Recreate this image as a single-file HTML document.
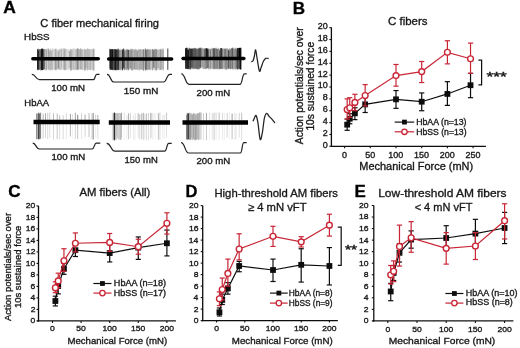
<!DOCTYPE html>
<html><head><meta charset="utf-8"><style>
html,body{margin:0;padding:0;background:#fff;}
svg{display:block;font-family:"Liberation Sans",sans-serif;will-change:transform;}
</style></head><body>
<svg width="520" height="348" viewBox="0 0 520 348">
<defs><filter id="gb" x="0" y="0" width="100%" height="100%"><feGaussianBlur stdDeviation="0.3"/></filter><filter id="bl" x="-5%" y="-5%" width="110%" height="110%"><feGaussianBlur stdDeviation="0.75 0.5"/></filter></defs>
<rect width="520" height="348" fill="#fff"/>
<g filter="url(#gb)">
<text x="3.26" y="12.5" font-size="16.5" textLength="12.59" lengthAdjust="spacingAndGlyphs" style="font-weight:bold;" fill="#000" stroke="#000" stroke-width="0.34" >A</text>
<text x="40.34" y="27" font-size="11" textLength="118.68" lengthAdjust="spacingAndGlyphs" style="" fill="#1a1a1a" stroke="#1a1a1a" stroke-width="0.34" >C fiber mechanical firing</text>
<text x="24.1" y="39.6" font-size="9" textLength="25.56" lengthAdjust="spacingAndGlyphs" style="" fill="#1a1a1a" stroke="#1a1a1a" stroke-width="0.34" >HbSS</text>
<text x="24.32" y="106.1" font-size="9" textLength="24.7" lengthAdjust="spacingAndGlyphs" style="" fill="#1a1a1a" stroke="#1a1a1a" stroke-width="0.34" >HbAA</text>
<text x="51.27" y="90.5" font-size="9" textLength="33.72" lengthAdjust="spacingAndGlyphs" style="" fill="#1a1a1a" stroke="#1a1a1a" stroke-width="0.34" >100 mN</text>
<text x="123.75" y="93.5" font-size="9" textLength="34.55" lengthAdjust="spacingAndGlyphs" style="" fill="#1a1a1a" stroke="#1a1a1a" stroke-width="0.34" >150 mN</text>
<text x="196.52" y="95.5" font-size="9" textLength="33.77" lengthAdjust="spacingAndGlyphs" style="" fill="#1a1a1a" stroke="#1a1a1a" stroke-width="0.34" >200 mN</text>
<text x="51.47" y="160.2" font-size="9" textLength="33.72" lengthAdjust="spacingAndGlyphs" style="" fill="#1a1a1a" stroke="#1a1a1a" stroke-width="0.34" >100 mN</text>
<text x="124.58" y="162.6" font-size="9" textLength="33.19" lengthAdjust="spacingAndGlyphs" style="" fill="#1a1a1a" stroke="#1a1a1a" stroke-width="0.34" >150 mN</text>
<text x="196.42" y="163.9" font-size="9" textLength="33.77" lengthAdjust="spacingAndGlyphs" style="" fill="#1a1a1a" stroke="#1a1a1a" stroke-width="0.34" >200 mN</text>
<g filter="url(#bl)"><rect x="37" y="49.4" width="0.55" height="20.2" fill="#000" fill-opacity="0.32"/><rect x="37.5" y="49.4" width="0.55" height="20.2" fill="#000" fill-opacity="0.32"/><rect x="38" y="49.4" width="0.55" height="20.2" fill="#000" fill-opacity="0.32"/><rect x="38.5" y="49.4" width="0.55" height="20.2" fill="#000" fill-opacity="0.32"/><rect x="39" y="49.4" width="0.55" height="20.2" fill="#000" fill-opacity="0.32"/><rect x="39.5" y="49.4" width="0.55" height="20.2" fill="#000" fill-opacity="0.32"/><rect x="40" y="49.4" width="0.55" height="20.2" fill="#000" fill-opacity="0.32"/><rect x="40.5" y="49.4" width="0.55" height="20.2" fill="#000" fill-opacity="0.32"/><rect x="41" y="49.4" width="0.55" height="20.2" fill="#000" fill-opacity="0.32"/><rect x="41.5" y="49.4" width="0.55" height="20.2" fill="#000" fill-opacity="0.32"/><rect x="42" y="49.4" width="0.55" height="20.2" fill="#000" fill-opacity="0.32"/><rect x="42.5" y="49.4" width="0.55" height="20.2" fill="#000" fill-opacity="0.32"/><rect x="43" y="49.4" width="0.55" height="20.2" fill="#000" fill-opacity="0.32"/><rect x="43.5" y="49.4" width="0.55" height="20.2" fill="#000" fill-opacity="0.32"/><rect x="44" y="49.4" width="0.55" height="20.2" fill="#000" fill-opacity="0.09"/><rect x="44.5" y="49.4" width="0.55" height="20.2" fill="#000" fill-opacity="0.09"/><rect x="45" y="49.4" width="0.55" height="20.2" fill="#000" fill-opacity="0.09"/><rect x="45.5" y="49.4" width="0.55" height="20.2" fill="#000" fill-opacity="0.09"/><rect x="46" y="49.4" width="0.55" height="20.2" fill="#000" fill-opacity="0.09"/><rect x="46.5" y="49.4" width="0.55" height="20.2" fill="#000" fill-opacity="0.09"/><rect x="47" y="49.4" width="0.55" height="20.2" fill="#000" fill-opacity="0.09"/><rect x="47.5" y="49.4" width="0.55" height="20.2" fill="#000" fill-opacity="0.09"/><rect x="48" y="49.4" width="0.55" height="20.2" fill="#000" fill-opacity="0.09"/><rect x="48.5" y="49.4" width="0.55" height="20.2" fill="#000" fill-opacity="0.09"/><rect x="49" y="49.4" width="0.55" height="20.2" fill="#000" fill-opacity="0.09"/><rect x="49.5" y="49.4" width="0.55" height="20.2" fill="#000" fill-opacity="0.09"/><rect x="50" y="49.4" width="0.55" height="20.2" fill="#000" fill-opacity="0.09"/><rect x="50.5" y="49.4" width="0.55" height="20.2" fill="#000" fill-opacity="0.09"/><rect x="51" y="49.4" width="0.55" height="20.2" fill="#000" fill-opacity="0.09"/><rect x="51.5" y="49.4" width="0.55" height="20.2" fill="#000" fill-opacity="0.09"/><rect x="52" y="49.4" width="0.55" height="20.2" fill="#000" fill-opacity="0.09"/><rect x="52.5" y="49.4" width="0.55" height="20.2" fill="#000" fill-opacity="0.09"/><rect x="53" y="49.4" width="0.55" height="20.2" fill="#000" fill-opacity="0.09"/><rect x="53.5" y="49.4" width="0.55" height="20.2" fill="#000" fill-opacity="0.09"/><rect x="54" y="49.4" width="0.55" height="20.2" fill="#000" fill-opacity="0.09"/><rect x="54.5" y="49.4" width="0.55" height="20.2" fill="#000" fill-opacity="0.09"/><rect x="55" y="49.4" width="0.55" height="20.2" fill="#000" fill-opacity="0.09"/><rect x="55.5" y="49.4" width="0.55" height="20.2" fill="#000" fill-opacity="0.09"/><rect x="56" y="49.4" width="0.55" height="20.2" fill="#000" fill-opacity="0.09"/><rect x="56.5" y="49.4" width="0.55" height="20.2" fill="#000" fill-opacity="0.09"/><rect x="57" y="49.4" width="0.55" height="20.2" fill="#000" fill-opacity="0.09"/><rect x="57.5" y="49.4" width="0.55" height="20.2" fill="#000" fill-opacity="0.09"/><rect x="58" y="49.4" width="0.55" height="20.2" fill="#000" fill-opacity="0.09"/><rect x="58.5" y="49.4" width="0.55" height="20.2" fill="#000" fill-opacity="0.09"/><rect x="59" y="49.4" width="0.55" height="20.2" fill="#000" fill-opacity="0.09"/><rect x="59.5" y="49.4" width="0.55" height="20.2" fill="#000" fill-opacity="0.09"/><rect x="60" y="49.4" width="0.55" height="20.2" fill="#000" fill-opacity="0.09"/><rect x="60.5" y="49.4" width="0.55" height="20.2" fill="#000" fill-opacity="0.09"/><rect x="61" y="49.4" width="0.55" height="20.2" fill="#000" fill-opacity="0.09"/><rect x="61.5" y="49.4" width="0.55" height="20.2" fill="#000" fill-opacity="0.09"/><rect x="62" y="49.4" width="0.55" height="20.2" fill="#000" fill-opacity="0.09"/><rect x="62.5" y="49.4" width="0.55" height="20.2" fill="#000" fill-opacity="0.09"/><rect x="63" y="49.4" width="0.55" height="20.2" fill="#000" fill-opacity="0.09"/><rect x="63.5" y="49.4" width="0.55" height="20.2" fill="#000" fill-opacity="0.09"/><rect x="64" y="49.4" width="0.55" height="20.2" fill="#000" fill-opacity="0.09"/><rect x="64.5" y="49.4" width="0.55" height="20.2" fill="#000" fill-opacity="0.09"/><rect x="65" y="49.4" width="0.55" height="20.2" fill="#000" fill-opacity="0.09"/><rect x="65.5" y="49.4" width="0.55" height="20.2" fill="#000" fill-opacity="0.09"/><rect x="66" y="49.4" width="0.55" height="20.2" fill="#000" fill-opacity="0.09"/><rect x="66.5" y="49.4" width="0.55" height="20.2" fill="#000" fill-opacity="0.09"/><rect x="67" y="49.4" width="0.55" height="20.2" fill="#000" fill-opacity="0.09"/><rect x="67.5" y="49.4" width="0.55" height="20.2" fill="#000" fill-opacity="0.09"/><rect x="68" y="49.4" width="0.55" height="20.2" fill="#000" fill-opacity="0.09"/><rect x="68.5" y="49.4" width="0.55" height="20.2" fill="#000" fill-opacity="0.09"/><rect x="69" y="49.4" width="0.55" height="20.2" fill="#000" fill-opacity="0.09"/><rect x="69.5" y="49.4" width="0.55" height="20.2" fill="#000" fill-opacity="0.09"/><rect x="70" y="49.4" width="0.55" height="20.2" fill="#000" fill-opacity="0.09"/><rect x="70.5" y="49.4" width="0.55" height="20.2" fill="#000" fill-opacity="0.09"/><rect x="71" y="49.4" width="0.55" height="20.2" fill="#000" fill-opacity="0.09"/><rect x="71.5" y="49.4" width="0.55" height="20.2" fill="#000" fill-opacity="0.09"/><rect x="72" y="49.4" width="0.55" height="20.2" fill="#000" fill-opacity="0.09"/><rect x="72.5" y="49.4" width="0.55" height="20.2" fill="#000" fill-opacity="0.09"/><rect x="73" y="49.4" width="0.55" height="20.2" fill="#000" fill-opacity="0.09"/><rect x="73.5" y="49.4" width="0.55" height="20.2" fill="#000" fill-opacity="0.09"/><rect x="74" y="49.4" width="0.55" height="20.2" fill="#000" fill-opacity="0.09"/><rect x="74.5" y="49.4" width="0.55" height="20.2" fill="#000" fill-opacity="0.09"/><rect x="75" y="49.4" width="0.55" height="20.2" fill="#000" fill-opacity="0.09"/><rect x="75.5" y="49.4" width="0.55" height="20.2" fill="#000" fill-opacity="0.09"/><rect x="76" y="49.4" width="0.55" height="20.2" fill="#000" fill-opacity="0.09"/><rect x="76.5" y="49.4" width="0.55" height="20.2" fill="#000" fill-opacity="0.09"/><rect x="77" y="49.4" width="0.55" height="20.2" fill="#000" fill-opacity="0.09"/><rect x="77.5" y="49.4" width="0.55" height="20.2" fill="#000" fill-opacity="0.09"/><rect x="78" y="49.4" width="0.55" height="20.2" fill="#000" fill-opacity="0.09"/><rect x="78.5" y="49.4" width="0.55" height="20.2" fill="#000" fill-opacity="0.09"/><rect x="79" y="49.4" width="0.55" height="20.2" fill="#000" fill-opacity="0.09"/><rect x="79.5" y="49.4" width="0.55" height="20.2" fill="#000" fill-opacity="0.09"/><rect x="80" y="49.4" width="0.55" height="20.2" fill="#000" fill-opacity="0.09"/><rect x="80.5" y="49.4" width="0.55" height="20.2" fill="#000" fill-opacity="0.09"/><rect x="81" y="49.4" width="0.55" height="20.2" fill="#000" fill-opacity="0.09"/><rect x="81.5" y="49.4" width="0.55" height="20.2" fill="#000" fill-opacity="0.09"/><rect x="82" y="49.4" width="0.55" height="20.2" fill="#000" fill-opacity="0.09"/><rect x="82.5" y="49.4" width="0.55" height="20.2" fill="#000" fill-opacity="0.09"/><rect x="83" y="49.4" width="0.55" height="20.2" fill="#000" fill-opacity="0.09"/><rect x="83.5" y="49.4" width="0.55" height="20.2" fill="#000" fill-opacity="0.09"/><rect x="84" y="49.4" width="0.55" height="20.2" fill="#000" fill-opacity="0.09"/><rect x="84.5" y="49.4" width="0.55" height="20.2" fill="#000" fill-opacity="0.09"/><rect x="85" y="49.4" width="0.55" height="20.2" fill="#000" fill-opacity="0.09"/><rect x="85.5" y="49.4" width="0.55" height="20.2" fill="#000" fill-opacity="0.09"/><rect x="86" y="49.4" width="0.55" height="20.2" fill="#000" fill-opacity="0.09"/><rect x="86.5" y="49.4" width="0.55" height="20.2" fill="#000" fill-opacity="0.09"/><rect x="87" y="49.4" width="0.55" height="20.2" fill="#000" fill-opacity="0.09"/><rect x="87.5" y="49.4" width="0.55" height="20.2" fill="#000" fill-opacity="0.09"/><rect x="88" y="49.4" width="0.55" height="20.2" fill="#000" fill-opacity="0.09"/><rect x="88.5" y="49.4" width="0.55" height="20.2" fill="#000" fill-opacity="0.09"/><rect x="89" y="49.4" width="0.55" height="20.2" fill="#000" fill-opacity="0.09"/><rect x="89.5" y="49.4" width="0.55" height="20.2" fill="#000" fill-opacity="0.09"/><rect x="90" y="49.4" width="0.55" height="20.2" fill="#000" fill-opacity="0.09"/><rect x="90.5" y="49.4" width="0.55" height="20.2" fill="#000" fill-opacity="0.09"/><rect x="91" y="49.4" width="0.55" height="20.2" fill="#000" fill-opacity="0.09"/><rect x="91.5" y="49.4" width="0.55" height="20.2" fill="#000" fill-opacity="0.09"/><rect x="92" y="49.4" width="0.55" height="20.2" fill="#000" fill-opacity="0.09"/><rect x="92.5" y="49.4" width="0.55" height="20.2" fill="#000" fill-opacity="0.09"/><rect x="93" y="49.4" width="0.55" height="20.2" fill="#000" fill-opacity="0.09"/><rect x="93.5" y="49.4" width="0.55" height="20.2" fill="#000" fill-opacity="0.09"/><rect x="94" y="49.4" width="0.55" height="20.2" fill="#000" fill-opacity="0.09"/><rect x="37" y="49.11" width="0.76" height="10.39" fill="#000" fill-opacity="0.78"/><rect x="37" y="59.5" width="0.76" height="10.16" fill="#000" fill-opacity="0.97"/><rect x="37.71" y="50.36" width="1.05" height="9.14" fill="#000" fill-opacity="0.83"/><rect x="37.71" y="59.5" width="1.05" height="10.17" fill="#000" fill-opacity="0.83"/><rect x="38.71" y="49.07" width="1.52" height="10.43" fill="#000" fill-opacity="0.41"/><rect x="38.71" y="59.5" width="1.52" height="10.38" fill="#000" fill-opacity="0.36"/><rect x="40.18" y="49.3" width="1.02" height="10.2" fill="#000" fill-opacity="0.51"/><rect x="40.18" y="59.5" width="1.02" height="11.18" fill="#000" fill-opacity="0.4"/><rect x="41.15" y="48.71" width="1.49" height="10.79" fill="#000" fill-opacity="1"/><rect x="41.15" y="59.5" width="1.49" height="10.5" fill="#000" fill-opacity="1"/><rect x="42.6" y="49.09" width="1.08" height="10.41" fill="#000" fill-opacity="0.64"/><rect x="42.6" y="59.5" width="1.08" height="10.5" fill="#000" fill-opacity="0.6"/><rect x="43.63" y="48.83" width="1.35" height="10.67" fill="#000" fill-opacity="0.35"/><rect x="43.63" y="59.5" width="1.35" height="9.83" fill="#000" fill-opacity="0.53"/><rect x="44.93" y="48.88" width="0.8" height="10.62" fill="#000" fill-opacity="0.17"/><rect x="44.93" y="59.5" width="0.8" height="11.06" fill="#000" fill-opacity="0.15"/><rect x="45.68" y="48.93" width="1.24" height="10.57" fill="#000" fill-opacity="0.29"/><rect x="45.68" y="59.5" width="1.24" height="10.84" fill="#000" fill-opacity="0.28"/><rect x="46.87" y="48.27" width="1.03" height="11.23" fill="#000" fill-opacity="0.11"/><rect x="46.87" y="59.5" width="1.03" height="9.59" fill="#000" fill-opacity="0.11"/><rect x="47.86" y="48.6" width="1.36" height="10.9" fill="#000" fill-opacity="0.31"/><rect x="47.86" y="59.5" width="1.36" height="10.33" fill="#000" fill-opacity="0.24"/><rect x="49.17" y="51.03" width="0.68" height="8.47" fill="#000" fill-opacity="0.23"/><rect x="49.17" y="59.5" width="0.68" height="10.26" fill="#000" fill-opacity="0.17"/><rect x="49.79" y="48.39" width="0.71" height="11.11" fill="#000" fill-opacity="0.25"/><rect x="49.79" y="59.5" width="0.71" height="10.8" fill="#000" fill-opacity="0.21"/><rect x="50.46" y="50.59" width="0.96" height="8.91" fill="#000" fill-opacity="0.25"/><rect x="50.46" y="59.5" width="0.96" height="11" fill="#000" fill-opacity="0.24"/><rect x="51.37" y="50.36" width="0.78" height="9.14" fill="#000" fill-opacity="0.24"/><rect x="51.37" y="59.5" width="0.78" height="10.45" fill="#000" fill-opacity="0.2"/><rect x="52.1" y="48.24" width="1.12" height="11.26" fill="#000" fill-opacity="0.16"/><rect x="52.1" y="59.5" width="1.12" height="10.34" fill="#000" fill-opacity="0.19"/><rect x="53.17" y="48.57" width="1.42" height="10.93" fill="#000" fill-opacity="0.06"/><rect x="53.17" y="59.5" width="1.42" height="10.41" fill="#000" fill-opacity="0.05"/><rect x="54.54" y="49.19" width="1.06" height="10.31" fill="#000" fill-opacity="0.25"/><rect x="54.54" y="59.5" width="1.06" height="10.36" fill="#000" fill-opacity="0.28"/><rect x="55.56" y="48.33" width="0.82" height="11.17" fill="#000" fill-opacity="0.32"/><rect x="55.56" y="59.5" width="0.82" height="10.94" fill="#000" fill-opacity="0.43"/><rect x="56.33" y="49.89" width="1.38" height="9.61" fill="#000" fill-opacity="0.11"/><rect x="56.33" y="59.5" width="1.38" height="10.01" fill="#000" fill-opacity="0.14"/><rect x="57.66" y="51.16" width="1.09" height="8.34" fill="#000" fill-opacity="0.28"/><rect x="57.66" y="59.5" width="1.09" height="9.12" fill="#000" fill-opacity="0.43"/><rect x="58.7" y="49.22" width="0.98" height="10.28" fill="#000" fill-opacity="0.28"/><rect x="58.7" y="59.5" width="0.98" height="10.26" fill="#000" fill-opacity="0.27"/><rect x="59.63" y="48.66" width="1.02" height="10.84" fill="#000" fill-opacity="0.05"/><rect x="59.63" y="59.5" width="1.02" height="10.86" fill="#000" fill-opacity="0.07"/><rect x="60.6" y="48.52" width="0.72" height="10.98" fill="#000" fill-opacity="0.29"/><rect x="60.6" y="59.5" width="0.72" height="10.62" fill="#000" fill-opacity="0.26"/><rect x="61.27" y="48.7" width="0.66" height="10.8" fill="#000" fill-opacity="0.26"/><rect x="61.27" y="59.5" width="0.66" height="8.93" fill="#000" fill-opacity="0.23"/><rect x="61.88" y="48.32" width="1.32" height="11.18" fill="#000" fill-opacity="0.09"/><rect x="61.88" y="59.5" width="1.32" height="10.85" fill="#000" fill-opacity="0.06"/><rect x="63.15" y="48.23" width="0.94" height="11.27" fill="#000" fill-opacity="0.21"/><rect x="63.15" y="59.5" width="0.94" height="10.19" fill="#000" fill-opacity="0.22"/><rect x="64.04" y="48.53" width="1.52" height="10.97" fill="#000" fill-opacity="0.27"/><rect x="64.04" y="59.5" width="1.52" height="10.56" fill="#000" fill-opacity="0.3"/><rect x="65.51" y="48.63" width="0.83" height="10.87" fill="#000" fill-opacity="0.13"/><rect x="65.51" y="59.5" width="0.83" height="11.19" fill="#000" fill-opacity="0.18"/><rect x="66.29" y="48.58" width="0.94" height="10.92" fill="#000" fill-opacity="0.08"/><rect x="66.29" y="59.5" width="0.94" height="10.23" fill="#000" fill-opacity="0.1"/><rect x="67.18" y="49.41" width="1.38" height="10.09" fill="#000" fill-opacity="0.08"/><rect x="67.18" y="59.5" width="1.38" height="10.26" fill="#000" fill-opacity="0.08"/><rect x="68.51" y="49.13" width="0.74" height="10.37" fill="#000" fill-opacity="0.11"/><rect x="68.51" y="59.5" width="0.74" height="10.69" fill="#000" fill-opacity="0.11"/><rect x="69.2" y="50.96" width="1.11" height="8.54" fill="#000" fill-opacity="0.33"/><rect x="69.2" y="59.5" width="1.11" height="8.62" fill="#000" fill-opacity="0.19"/><rect x="70.26" y="49.1" width="1.41" height="10.4" fill="#000" fill-opacity="0.27"/><rect x="70.26" y="59.5" width="1.41" height="11.09" fill="#000" fill-opacity="0.38"/><rect x="71.62" y="48.86" width="1.38" height="10.64" fill="#000" fill-opacity="0.16"/><rect x="71.62" y="59.5" width="1.38" height="10.28" fill="#000" fill-opacity="0.15"/><rect x="72.95" y="48.22" width="1.53" height="11.28" fill="#000" fill-opacity="0.12"/><rect x="72.95" y="59.5" width="1.53" height="10.6" fill="#000" fill-opacity="0.19"/><rect x="74.43" y="48.21" width="0.86" height="11.29" fill="#000" fill-opacity="0.08"/><rect x="74.43" y="59.5" width="0.86" height="10.7" fill="#000" fill-opacity="0.1"/><rect x="75.24" y="49.06" width="1.51" height="10.44" fill="#000" fill-opacity="0.18"/><rect x="75.24" y="59.5" width="1.51" height="10.57" fill="#000" fill-opacity="0.22"/><rect x="76.7" y="48.39" width="1.44" height="11.11" fill="#000" fill-opacity="0.37"/><rect x="76.7" y="59.5" width="1.44" height="10.24" fill="#000" fill-opacity="0.4"/><rect x="78.09" y="48.35" width="0.73" height="11.15" fill="#000" fill-opacity="0.26"/><rect x="78.09" y="59.5" width="0.73" height="10.68" fill="#000" fill-opacity="0.31"/><rect x="78.76" y="49.06" width="1.26" height="10.44" fill="#000" fill-opacity="0.24"/><rect x="78.76" y="59.5" width="1.26" height="9.75" fill="#000" fill-opacity="0.15"/><rect x="79.98" y="48.3" width="1.31" height="11.2" fill="#000" fill-opacity="0.28"/><rect x="79.98" y="59.5" width="1.31" height="10.14" fill="#000" fill-opacity="0.25"/><rect x="81.24" y="49.28" width="1.5" height="10.22" fill="#000" fill-opacity="0.24"/><rect x="81.24" y="59.5" width="1.5" height="10.21" fill="#000" fill-opacity="0.22"/><rect x="82.69" y="48.53" width="1.24" height="10.97" fill="#000" fill-opacity="0.08"/><rect x="82.69" y="59.5" width="1.24" height="10.63" fill="#000" fill-opacity="0.08"/><rect x="83.88" y="48.54" width="0.84" height="10.96" fill="#000" fill-opacity="0.2"/><rect x="83.88" y="59.5" width="0.84" height="10.97" fill="#000" fill-opacity="0.26"/><rect x="84.67" y="49.46" width="0.97" height="10.04" fill="#000" fill-opacity="0.3"/><rect x="84.67" y="59.5" width="0.97" height="11.05" fill="#000" fill-opacity="0.43"/><rect x="85.59" y="49.36" width="1.14" height="10.14" fill="#000" fill-opacity="0.16"/><rect x="85.59" y="59.5" width="1.14" height="8.38" fill="#000" fill-opacity="0.16"/><rect x="86.68" y="48.35" width="0.94" height="11.15" fill="#000" fill-opacity="0.25"/><rect x="86.68" y="59.5" width="0.94" height="10.88" fill="#000" fill-opacity="0.31"/><rect x="87.57" y="48.21" width="0.83" height="11.29" fill="#000" fill-opacity="0.19"/><rect x="87.57" y="59.5" width="0.83" height="10.58" fill="#000" fill-opacity="0.16"/><rect x="88.35" y="49.05" width="1.49" height="10.45" fill="#000" fill-opacity="0.21"/><rect x="88.35" y="59.5" width="1.49" height="10.46" fill="#000" fill-opacity="0.16"/><rect x="89.8" y="48.95" width="0.95" height="10.55" fill="#000" fill-opacity="0.16"/><rect x="89.8" y="59.5" width="0.95" height="10.46" fill="#000" fill-opacity="0.27"/><rect x="90.7" y="48.96" width="1.02" height="10.54" fill="#000" fill-opacity="0.1"/><rect x="90.7" y="59.5" width="1.02" height="10.18" fill="#000" fill-opacity="0.1"/><rect x="91.67" y="48.69" width="1.37" height="10.81" fill="#000" fill-opacity="0.17"/><rect x="91.67" y="59.5" width="1.37" height="10.94" fill="#000" fill-opacity="0.16"/><rect x="92.99" y="48.63" width="1.03" height="10.87" fill="#000" fill-opacity="0.3"/><rect x="92.99" y="59.5" width="1.03" height="11.28" fill="#000" fill-opacity="0.26"/><rect x="93.97" y="48.48" width="1.13" height="11.02" fill="#000" fill-opacity="0.12"/><rect x="93.97" y="59.5" width="1.13" height="11.22" fill="#000" fill-opacity="0.11"/><rect x="41.9" y="48.5" width="1" height="21.8" fill="#000" fill-opacity="0.5"/><rect x="37.7" y="48.5" width="1" height="21.8" fill="#000" fill-opacity="0.35"/></g>
<g filter="url(#bl)"><rect x="109.3" y="49.7" width="0.55" height="19.9" fill="#000" fill-opacity="0.45"/><rect x="109.8" y="49.7" width="0.55" height="19.9" fill="#000" fill-opacity="0.45"/><rect x="110.3" y="49.7" width="0.55" height="19.9" fill="#000" fill-opacity="0.45"/><rect x="110.8" y="49.7" width="0.55" height="19.9" fill="#000" fill-opacity="0.45"/><rect x="111.3" y="49.7" width="0.55" height="19.9" fill="#000" fill-opacity="0.45"/><rect x="111.8" y="49.7" width="0.55" height="19.9" fill="#000" fill-opacity="0.45"/><rect x="112.3" y="49.7" width="0.55" height="19.9" fill="#000" fill-opacity="0.45"/><rect x="112.8" y="49.7" width="0.55" height="19.9" fill="#000" fill-opacity="0.45"/><rect x="113.3" y="49.7" width="0.55" height="19.9" fill="#000" fill-opacity="0.45"/><rect x="113.8" y="49.7" width="0.55" height="19.9" fill="#000" fill-opacity="0.45"/><rect x="114.3" y="49.7" width="0.55" height="19.9" fill="#000" fill-opacity="0.45"/><rect x="114.8" y="49.7" width="0.55" height="19.9" fill="#000" fill-opacity="0.45"/><rect x="115.3" y="49.7" width="0.55" height="19.9" fill="#000" fill-opacity="0.45"/><rect x="115.8" y="49.7" width="0.55" height="19.9" fill="#000" fill-opacity="0.33"/><rect x="116.3" y="49.7" width="0.55" height="19.9" fill="#000" fill-opacity="0.33"/><rect x="116.8" y="49.7" width="0.55" height="19.9" fill="#000" fill-opacity="0.33"/><rect x="117.3" y="49.7" width="0.55" height="19.9" fill="#000" fill-opacity="0.32"/><rect x="117.8" y="49.7" width="0.55" height="19.9" fill="#000" fill-opacity="0.32"/><rect x="118.3" y="49.7" width="0.55" height="19.9" fill="#000" fill-opacity="0.31"/><rect x="118.8" y="49.7" width="0.55" height="19.9" fill="#000" fill-opacity="0.31"/><rect x="119.3" y="49.7" width="0.55" height="19.9" fill="#000" fill-opacity="0.3"/><rect x="119.8" y="49.7" width="0.55" height="19.9" fill="#000" fill-opacity="0.3"/><rect x="120.3" y="49.7" width="0.55" height="19.9" fill="#000" fill-opacity="0.29"/><rect x="120.8" y="49.7" width="0.55" height="19.9" fill="#000" fill-opacity="0.29"/><rect x="121.3" y="49.7" width="0.55" height="19.9" fill="#000" fill-opacity="0.28"/><rect x="121.8" y="49.7" width="0.55" height="19.9" fill="#000" fill-opacity="0.28"/><rect x="122.3" y="49.7" width="0.55" height="19.9" fill="#000" fill-opacity="0.27"/><rect x="122.8" y="49.7" width="0.55" height="19.9" fill="#000" fill-opacity="0.27"/><rect x="123.3" y="49.7" width="0.55" height="19.9" fill="#000" fill-opacity="0.26"/><rect x="123.8" y="49.7" width="0.55" height="19.9" fill="#000" fill-opacity="0.26"/><rect x="124.3" y="49.7" width="0.55" height="19.9" fill="#000" fill-opacity="0.25"/><rect x="124.8" y="49.7" width="0.55" height="19.9" fill="#000" fill-opacity="0.25"/><rect x="125.3" y="49.7" width="0.55" height="19.9" fill="#000" fill-opacity="0.24"/><rect x="125.8" y="49.7" width="0.55" height="19.9" fill="#000" fill-opacity="0.24"/><rect x="126.3" y="49.7" width="0.55" height="19.9" fill="#000" fill-opacity="0.23"/><rect x="126.8" y="49.7" width="0.55" height="19.9" fill="#000" fill-opacity="0.23"/><rect x="127.3" y="49.7" width="0.55" height="19.9" fill="#000" fill-opacity="0.22"/><rect x="127.8" y="49.7" width="0.55" height="19.9" fill="#000" fill-opacity="0.22"/><rect x="128.3" y="49.7" width="0.55" height="19.9" fill="#000" fill-opacity="0.22"/><rect x="128.8" y="49.7" width="0.55" height="19.9" fill="#000" fill-opacity="0.21"/><rect x="129.3" y="49.7" width="0.55" height="19.9" fill="#000" fill-opacity="0.21"/><rect x="129.8" y="49.7" width="0.55" height="19.9" fill="#000" fill-opacity="0.2"/><rect x="130.3" y="49.7" width="0.55" height="19.9" fill="#000" fill-opacity="0.2"/><rect x="130.8" y="49.7" width="0.55" height="19.9" fill="#000" fill-opacity="0.19"/><rect x="131.3" y="49.7" width="0.55" height="19.9" fill="#000" fill-opacity="0.19"/><rect x="131.8" y="49.7" width="0.55" height="19.9" fill="#000" fill-opacity="0.18"/><rect x="132.3" y="49.7" width="0.55" height="19.9" fill="#000" fill-opacity="0.14"/><rect x="132.8" y="49.7" width="0.55" height="19.9" fill="#000" fill-opacity="0.14"/><rect x="133.3" y="49.7" width="0.55" height="19.9" fill="#000" fill-opacity="0.14"/><rect x="133.8" y="49.7" width="0.55" height="19.9" fill="#000" fill-opacity="0.14"/><rect x="134.3" y="49.7" width="0.55" height="19.9" fill="#000" fill-opacity="0.14"/><rect x="134.8" y="49.7" width="0.55" height="19.9" fill="#000" fill-opacity="0.14"/><rect x="135.3" y="49.7" width="0.55" height="19.9" fill="#000" fill-opacity="0.14"/><rect x="135.8" y="49.7" width="0.55" height="19.9" fill="#000" fill-opacity="0.14"/><rect x="136.3" y="49.7" width="0.55" height="19.9" fill="#000" fill-opacity="0.14"/><rect x="136.8" y="49.7" width="0.55" height="19.9" fill="#000" fill-opacity="0.14"/><rect x="137.3" y="49.7" width="0.55" height="19.9" fill="#000" fill-opacity="0.14"/><rect x="137.8" y="49.7" width="0.55" height="19.9" fill="#000" fill-opacity="0.14"/><rect x="138.3" y="49.7" width="0.55" height="19.9" fill="#000" fill-opacity="0.14"/><rect x="138.8" y="49.7" width="0.55" height="19.9" fill="#000" fill-opacity="0.14"/><rect x="139.3" y="49.7" width="0.55" height="19.9" fill="#000" fill-opacity="0.14"/><rect x="139.8" y="49.7" width="0.55" height="19.9" fill="#000" fill-opacity="0.14"/><rect x="140.3" y="49.7" width="0.55" height="19.9" fill="#000" fill-opacity="0.14"/><rect x="140.8" y="49.7" width="0.55" height="19.9" fill="#000" fill-opacity="0.14"/><rect x="141.3" y="49.7" width="0.55" height="19.9" fill="#000" fill-opacity="0.14"/><rect x="141.8" y="49.7" width="0.55" height="19.9" fill="#000" fill-opacity="0.14"/><rect x="142.3" y="49.7" width="0.55" height="19.9" fill="#000" fill-opacity="0.14"/><rect x="142.8" y="49.7" width="0.55" height="19.9" fill="#000" fill-opacity="0.14"/><rect x="143.3" y="49.7" width="0.55" height="19.9" fill="#000" fill-opacity="0.14"/><rect x="143.8" y="49.7" width="0.55" height="19.9" fill="#000" fill-opacity="0.14"/><rect x="144.3" y="49.7" width="0.55" height="19.9" fill="#000" fill-opacity="0.14"/><rect x="144.8" y="49.7" width="0.55" height="19.9" fill="#000" fill-opacity="0.14"/><rect x="145.3" y="49.7" width="0.55" height="19.9" fill="#000" fill-opacity="0.14"/><rect x="145.8" y="49.7" width="0.55" height="19.9" fill="#000" fill-opacity="0.14"/><rect x="146.3" y="49.7" width="0.55" height="19.9" fill="#000" fill-opacity="0.14"/><rect x="146.8" y="49.7" width="0.55" height="19.9" fill="#000" fill-opacity="0.14"/><rect x="147.3" y="49.7" width="0.55" height="19.9" fill="#000" fill-opacity="0.14"/><rect x="147.8" y="49.7" width="0.55" height="19.9" fill="#000" fill-opacity="0.14"/><rect x="148.3" y="49.7" width="0.55" height="19.9" fill="#000" fill-opacity="0.14"/><rect x="148.8" y="49.7" width="0.55" height="19.9" fill="#000" fill-opacity="0.14"/><rect x="149.3" y="49.7" width="0.55" height="19.9" fill="#000" fill-opacity="0.14"/><rect x="149.8" y="49.7" width="0.55" height="19.9" fill="#000" fill-opacity="0.14"/><rect x="150.3" y="49.7" width="0.55" height="19.9" fill="#000" fill-opacity="0.14"/><rect x="150.8" y="49.7" width="0.55" height="19.9" fill="#000" fill-opacity="0.14"/><rect x="151.3" y="49.7" width="0.55" height="19.9" fill="#000" fill-opacity="0.14"/><rect x="151.8" y="49.7" width="0.55" height="19.9" fill="#000" fill-opacity="0.14"/><rect x="152.3" y="49.7" width="0.55" height="19.9" fill="#000" fill-opacity="0.14"/><rect x="152.8" y="49.7" width="0.55" height="19.9" fill="#000" fill-opacity="0.14"/><rect x="153.3" y="49.7" width="0.55" height="19.9" fill="#000" fill-opacity="0.14"/><rect x="153.8" y="49.7" width="0.55" height="19.9" fill="#000" fill-opacity="0.14"/><rect x="154.3" y="49.7" width="0.55" height="19.9" fill="#000" fill-opacity="0.14"/><rect x="154.8" y="49.7" width="0.55" height="19.9" fill="#000" fill-opacity="0.14"/><rect x="155.3" y="49.7" width="0.55" height="19.9" fill="#000" fill-opacity="0.14"/><rect x="155.8" y="49.7" width="0.55" height="19.9" fill="#000" fill-opacity="0.14"/><rect x="156.3" y="49.7" width="0.55" height="19.9" fill="#000" fill-opacity="0.14"/><rect x="156.8" y="49.7" width="0.55" height="19.9" fill="#000" fill-opacity="0.14"/><rect x="157.3" y="49.7" width="0.55" height="19.9" fill="#000" fill-opacity="0.14"/><rect x="157.8" y="49.7" width="0.55" height="19.9" fill="#000" fill-opacity="0.14"/><rect x="158.3" y="49.7" width="0.55" height="19.9" fill="#000" fill-opacity="0.14"/><rect x="158.8" y="49.7" width="0.55" height="19.9" fill="#000" fill-opacity="0.14"/><rect x="159.3" y="49.7" width="0.55" height="19.9" fill="#000" fill-opacity="0.14"/><rect x="159.8" y="49.7" width="0.55" height="19.9" fill="#000" fill-opacity="0.14"/><rect x="160.3" y="49.7" width="0.55" height="19.9" fill="#000" fill-opacity="0.14"/><rect x="160.8" y="49.7" width="0.55" height="19.9" fill="#000" fill-opacity="0.14"/><rect x="161.3" y="49.7" width="0.55" height="19.9" fill="#000" fill-opacity="0.14"/><rect x="161.8" y="49.7" width="0.55" height="19.9" fill="#000" fill-opacity="0.14"/><rect x="162.3" y="49.7" width="0.55" height="19.9" fill="#000" fill-opacity="0.14"/><rect x="162.8" y="49.7" width="0.55" height="19.9" fill="#000" fill-opacity="0.14"/><rect x="163.3" y="49.7" width="0.55" height="19.9" fill="#000" fill-opacity="0.14"/><rect x="109.3" y="48.7" width="0.97" height="10.95" fill="#000" fill-opacity="0.56"/><rect x="109.3" y="59.65" width="0.97" height="8.59" fill="#000" fill-opacity="0.44"/><rect x="110.22" y="49.11" width="1.42" height="10.54" fill="#000" fill-opacity="1"/><rect x="110.22" y="59.65" width="1.42" height="10.03" fill="#000" fill-opacity="1"/><rect x="111.6" y="49.13" width="1.45" height="10.52" fill="#000" fill-opacity="0.88"/><rect x="111.6" y="59.65" width="1.45" height="10.44" fill="#000" fill-opacity="0.69"/><rect x="113" y="49.03" width="1.55" height="10.62" fill="#000" fill-opacity="0.43"/><rect x="113" y="59.65" width="1.55" height="10.52" fill="#000" fill-opacity="0.45"/><rect x="114.5" y="49.05" width="1.29" height="10.6" fill="#000" fill-opacity="0.95"/><rect x="114.5" y="59.65" width="1.29" height="10.56" fill="#000" fill-opacity="1"/><rect x="115.74" y="49.37" width="0.97" height="10.28" fill="#000" fill-opacity="0.91"/><rect x="115.74" y="59.65" width="0.97" height="10.6" fill="#000" fill-opacity="0.77"/><rect x="116.66" y="49.65" width="0.93" height="10" fill="#000" fill-opacity="0.76"/><rect x="116.66" y="59.65" width="0.93" height="10.54" fill="#000" fill-opacity="0.66"/><rect x="117.54" y="48.59" width="1.21" height="11.06" fill="#000" fill-opacity="0.72"/><rect x="117.54" y="59.65" width="1.21" height="10.28" fill="#000" fill-opacity="0.91"/><rect x="118.7" y="49.6" width="1.26" height="10.05" fill="#000" fill-opacity="0.21"/><rect x="118.7" y="59.65" width="1.26" height="10.74" fill="#000" fill-opacity="0.2"/><rect x="119.91" y="48.71" width="0.98" height="10.94" fill="#000" fill-opacity="0.12"/><rect x="119.91" y="59.65" width="0.98" height="11.05" fill="#000" fill-opacity="0.18"/><rect x="120.84" y="50.07" width="1.31" height="9.58" fill="#000" fill-opacity="0.13"/><rect x="120.84" y="59.65" width="1.31" height="10.44" fill="#000" fill-opacity="0.18"/><rect x="122.1" y="49.51" width="0.75" height="10.14" fill="#000" fill-opacity="0.92"/><rect x="122.1" y="59.65" width="0.75" height="10.61" fill="#000" fill-opacity="0.9"/><rect x="122.8" y="48.61" width="1.51" height="11.04" fill="#000" fill-opacity="0.67"/><rect x="122.8" y="59.65" width="1.51" height="8.63" fill="#000" fill-opacity="0.65"/><rect x="124.26" y="51.38" width="0.78" height="8.27" fill="#000" fill-opacity="0.37"/><rect x="124.26" y="59.65" width="0.78" height="10.42" fill="#000" fill-opacity="0.48"/><rect x="124.99" y="49.86" width="0.8" height="9.79" fill="#000" fill-opacity="0.12"/><rect x="124.99" y="59.65" width="0.8" height="10.05" fill="#000" fill-opacity="0.12"/><rect x="125.75" y="49.46" width="1.21" height="10.19" fill="#000" fill-opacity="0.31"/><rect x="125.75" y="59.65" width="1.21" height="10.84" fill="#000" fill-opacity="0.19"/><rect x="126.91" y="48.81" width="0.73" height="10.84" fill="#000" fill-opacity="0.36"/><rect x="126.91" y="59.65" width="0.73" height="8.9" fill="#000" fill-opacity="0.5"/><rect x="127.59" y="49.66" width="1.47" height="9.99" fill="#000" fill-opacity="0.6"/><rect x="127.59" y="59.65" width="1.47" height="10.63" fill="#000" fill-opacity="0.38"/><rect x="129" y="49.94" width="1.25" height="9.71" fill="#000" fill-opacity="0.18"/><rect x="129" y="59.65" width="1.25" height="8.27" fill="#000" fill-opacity="0.2"/><rect x="130.2" y="48.87" width="0.74" height="10.78" fill="#000" fill-opacity="0.31"/><rect x="130.2" y="59.65" width="0.74" height="9.13" fill="#000" fill-opacity="0.28"/><rect x="130.89" y="48.53" width="0.65" height="11.12" fill="#000" fill-opacity="0.19"/><rect x="130.89" y="59.65" width="0.65" height="8.98" fill="#000" fill-opacity="0.13"/><rect x="131.5" y="48.87" width="1.01" height="10.78" fill="#000" fill-opacity="0.4"/><rect x="131.5" y="59.65" width="1.01" height="11.05" fill="#000" fill-opacity="0.42"/><rect x="132.45" y="49.1" width="1.3" height="10.55" fill="#000" fill-opacity="0.14"/><rect x="132.45" y="59.65" width="1.3" height="10.6" fill="#000" fill-opacity="0.15"/><rect x="133.7" y="49.39" width="1.4" height="10.26" fill="#000" fill-opacity="0.28"/><rect x="133.7" y="59.65" width="1.4" height="9.68" fill="#000" fill-opacity="0.3"/><rect x="135.05" y="48.71" width="0.71" height="10.94" fill="#000" fill-opacity="0.23"/><rect x="135.05" y="59.65" width="0.71" height="10.18" fill="#000" fill-opacity="0.22"/><rect x="135.72" y="49.35" width="1" height="10.3" fill="#000" fill-opacity="0.24"/><rect x="135.72" y="59.65" width="1" height="10.16" fill="#000" fill-opacity="0.2"/><rect x="136.67" y="50.65" width="1.11" height="9" fill="#000" fill-opacity="0.34"/><rect x="136.67" y="59.65" width="1.11" height="10.08" fill="#000" fill-opacity="0.25"/><rect x="137.73" y="49.36" width="1.07" height="10.29" fill="#000" fill-opacity="0.2"/><rect x="137.73" y="59.65" width="1.07" height="10.69" fill="#000" fill-opacity="0.14"/><rect x="138.75" y="49.07" width="1.28" height="10.58" fill="#000" fill-opacity="0.24"/><rect x="138.75" y="59.65" width="1.28" height="10.75" fill="#000" fill-opacity="0.22"/><rect x="139.99" y="48.96" width="1.38" height="10.69" fill="#000" fill-opacity="0.22"/><rect x="139.99" y="59.65" width="1.38" height="10.05" fill="#000" fill-opacity="0.24"/><rect x="141.32" y="49.38" width="1.5" height="10.27" fill="#000" fill-opacity="0.16"/><rect x="141.32" y="59.65" width="1.5" height="10.06" fill="#000" fill-opacity="0.22"/><rect x="142.77" y="49.09" width="1.17" height="10.56" fill="#000" fill-opacity="0.41"/><rect x="142.77" y="59.65" width="1.17" height="11.14" fill="#000" fill-opacity="0.38"/><rect x="143.9" y="49.59" width="0.97" height="10.06" fill="#000" fill-opacity="0.1"/><rect x="143.9" y="59.65" width="0.97" height="9.14" fill="#000" fill-opacity="0.11"/><rect x="144.81" y="48.6" width="0.67" height="11.05" fill="#000" fill-opacity="0.28"/><rect x="144.81" y="59.65" width="0.67" height="10.94" fill="#000" fill-opacity="0.2"/><rect x="145.44" y="49.1" width="0.7" height="10.55" fill="#000" fill-opacity="0.14"/><rect x="145.44" y="59.65" width="0.7" height="9.12" fill="#000" fill-opacity="0.14"/><rect x="146.08" y="49.54" width="1.05" height="10.11" fill="#000" fill-opacity="0.45"/><rect x="146.08" y="59.65" width="1.05" height="10.37" fill="#000" fill-opacity="0.49"/><rect x="147.08" y="48.87" width="1.5" height="10.78" fill="#000" fill-opacity="0.34"/><rect x="147.08" y="59.65" width="1.5" height="10.53" fill="#000" fill-opacity="0.25"/><rect x="148.54" y="49.42" width="1.22" height="10.23" fill="#000" fill-opacity="0.27"/><rect x="148.54" y="59.65" width="1.22" height="9.78" fill="#000" fill-opacity="0.35"/><rect x="149.7" y="48.93" width="0.84" height="10.72" fill="#000" fill-opacity="0.34"/><rect x="149.7" y="59.65" width="0.84" height="10.71" fill="#000" fill-opacity="0.25"/><rect x="150.49" y="49.48" width="1.49" height="10.17" fill="#000" fill-opacity="0.1"/><rect x="150.49" y="59.65" width="1.49" height="10.44" fill="#000" fill-opacity="0.07"/><rect x="151.93" y="48.98" width="1.22" height="10.67" fill="#000" fill-opacity="0.4"/><rect x="151.93" y="59.65" width="1.22" height="10.74" fill="#000" fill-opacity="0.29"/><rect x="153.1" y="49.62" width="1.43" height="10.03" fill="#000" fill-opacity="0.45"/><rect x="153.1" y="59.65" width="1.43" height="8.21" fill="#000" fill-opacity="0.41"/><rect x="154.48" y="48.61" width="1.05" height="11.04" fill="#000" fill-opacity="0.3"/><rect x="154.48" y="59.65" width="1.05" height="10.77" fill="#000" fill-opacity="0.16"/><rect x="155.48" y="49.02" width="1.34" height="10.63" fill="#000" fill-opacity="0.41"/><rect x="155.48" y="59.65" width="1.34" height="10.87" fill="#000" fill-opacity="0.35"/><rect x="156.77" y="48.93" width="0.74" height="10.72" fill="#000" fill-opacity="0.17"/><rect x="156.77" y="59.65" width="0.74" height="10.85" fill="#000" fill-opacity="0.17"/><rect x="157.45" y="49.28" width="1.5" height="10.37" fill="#000" fill-opacity="0.16"/><rect x="157.45" y="59.65" width="1.5" height="8.56" fill="#000" fill-opacity="0.19"/><rect x="158.9" y="49.42" width="0.95" height="10.23" fill="#000" fill-opacity="0.1"/><rect x="158.9" y="59.65" width="0.95" height="10.68" fill="#000" fill-opacity="0.1"/><rect x="159.8" y="49.11" width="0.73" height="10.54" fill="#000" fill-opacity="0.48"/><rect x="159.8" y="59.65" width="0.73" height="10.56" fill="#000" fill-opacity="0.31"/><rect x="160.48" y="48.65" width="1.55" height="11" fill="#000" fill-opacity="0.18"/><rect x="160.48" y="59.65" width="1.55" height="10.33" fill="#000" fill-opacity="0.19"/><rect x="161.98" y="48.53" width="0.85" height="11.12" fill="#000" fill-opacity="0.22"/><rect x="161.98" y="59.65" width="0.85" height="9.97" fill="#000" fill-opacity="0.16"/><rect x="162.78" y="48.67" width="1.15" height="10.98" fill="#000" fill-opacity="0.24"/><rect x="162.78" y="59.65" width="1.15" height="10.97" fill="#000" fill-opacity="0.2"/><rect x="144.9" y="48.5" width="1" height="22" fill="#000" fill-opacity="0.45"/><rect x="167.3" y="48.5" width="1" height="21.3" fill="#000" fill-opacity="0.75"/></g>
<g filter="url(#bl)"><rect x="185.2" y="48.7" width="0.55" height="19.9" fill="#000" fill-opacity="0.5"/><rect x="185.7" y="48.7" width="0.55" height="19.9" fill="#000" fill-opacity="0.5"/><rect x="186.2" y="48.7" width="0.55" height="19.9" fill="#000" fill-opacity="0.5"/><rect x="186.7" y="48.7" width="0.55" height="19.9" fill="#000" fill-opacity="0.5"/><rect x="187.2" y="48.7" width="0.55" height="19.9" fill="#000" fill-opacity="0.5"/><rect x="187.7" y="48.7" width="0.55" height="19.9" fill="#000" fill-opacity="0.5"/><rect x="188.2" y="48.7" width="0.55" height="19.9" fill="#000" fill-opacity="0.5"/><rect x="188.7" y="48.7" width="0.55" height="19.9" fill="#000" fill-opacity="0.5"/><rect x="189.2" y="48.7" width="0.55" height="19.9" fill="#000" fill-opacity="0.5"/><rect x="189.7" y="48.7" width="0.55" height="19.9" fill="#000" fill-opacity="0.5"/><rect x="190.2" y="48.7" width="0.55" height="19.9" fill="#000" fill-opacity="0.5"/><rect x="190.7" y="48.7" width="0.55" height="19.9" fill="#000" fill-opacity="0.32"/><rect x="191.2" y="48.7" width="0.55" height="19.9" fill="#000" fill-opacity="0.32"/><rect x="191.7" y="48.7" width="0.55" height="19.9" fill="#000" fill-opacity="0.32"/><rect x="192.2" y="48.7" width="0.55" height="19.9" fill="#000" fill-opacity="0.32"/><rect x="192.7" y="48.7" width="0.55" height="19.9" fill="#000" fill-opacity="0.32"/><rect x="193.2" y="48.7" width="0.55" height="19.9" fill="#000" fill-opacity="0.32"/><rect x="193.7" y="48.7" width="0.55" height="19.9" fill="#000" fill-opacity="0.32"/><rect x="194.2" y="48.7" width="0.55" height="19.9" fill="#000" fill-opacity="0.32"/><rect x="194.7" y="48.7" width="0.55" height="19.9" fill="#000" fill-opacity="0.32"/><rect x="195.2" y="48.7" width="0.55" height="19.9" fill="#000" fill-opacity="0.32"/><rect x="195.7" y="48.7" width="0.55" height="19.9" fill="#000" fill-opacity="0.32"/><rect x="196.2" y="48.7" width="0.55" height="19.9" fill="#000" fill-opacity="0.32"/><rect x="196.7" y="48.7" width="0.55" height="19.9" fill="#000" fill-opacity="0.32"/><rect x="197.2" y="48.7" width="0.55" height="19.9" fill="#000" fill-opacity="0.32"/><rect x="197.7" y="48.7" width="0.55" height="19.9" fill="#000" fill-opacity="0.32"/><rect x="198.2" y="48.7" width="0.55" height="19.9" fill="#000" fill-opacity="0.32"/><rect x="198.7" y="48.7" width="0.55" height="19.9" fill="#000" fill-opacity="0.32"/><rect x="199.2" y="48.7" width="0.55" height="19.9" fill="#000" fill-opacity="0.32"/><rect x="199.7" y="48.7" width="0.55" height="19.9" fill="#000" fill-opacity="0.32"/><rect x="200.2" y="48.7" width="0.55" height="19.9" fill="#000" fill-opacity="0.21"/><rect x="200.7" y="48.7" width="0.55" height="19.9" fill="#000" fill-opacity="0.21"/><rect x="201.2" y="48.7" width="0.55" height="19.9" fill="#000" fill-opacity="0.21"/><rect x="201.7" y="48.7" width="0.55" height="19.9" fill="#000" fill-opacity="0.21"/><rect x="202.2" y="48.7" width="0.55" height="19.9" fill="#000" fill-opacity="0.21"/><rect x="202.7" y="48.7" width="0.55" height="19.9" fill="#000" fill-opacity="0.21"/><rect x="203.2" y="48.7" width="0.55" height="19.9" fill="#000" fill-opacity="0.21"/><rect x="203.7" y="48.7" width="0.55" height="19.9" fill="#000" fill-opacity="0.21"/><rect x="204.2" y="48.7" width="0.55" height="19.9" fill="#000" fill-opacity="0.21"/><rect x="204.7" y="48.7" width="0.55" height="19.9" fill="#000" fill-opacity="0.21"/><rect x="205.2" y="48.7" width="0.55" height="19.9" fill="#000" fill-opacity="0.21"/><rect x="205.7" y="48.7" width="0.55" height="19.9" fill="#000" fill-opacity="0.21"/><rect x="206.2" y="48.7" width="0.55" height="19.9" fill="#000" fill-opacity="0.21"/><rect x="206.7" y="48.7" width="0.55" height="19.9" fill="#000" fill-opacity="0.21"/><rect x="207.2" y="48.7" width="0.55" height="19.9" fill="#000" fill-opacity="0.21"/><rect x="207.7" y="48.7" width="0.55" height="19.9" fill="#000" fill-opacity="0.21"/><rect x="208.2" y="48.7" width="0.55" height="19.9" fill="#000" fill-opacity="0.21"/><rect x="208.7" y="48.7" width="0.55" height="19.9" fill="#000" fill-opacity="0.21"/><rect x="209.2" y="48.7" width="0.55" height="19.9" fill="#000" fill-opacity="0.21"/><rect x="209.7" y="48.7" width="0.55" height="19.9" fill="#000" fill-opacity="0.21"/><rect x="210.2" y="48.7" width="0.55" height="19.9" fill="#000" fill-opacity="0.21"/><rect x="210.7" y="48.7" width="0.55" height="19.9" fill="#000" fill-opacity="0.21"/><rect x="211.2" y="48.7" width="0.55" height="19.9" fill="#000" fill-opacity="0.21"/><rect x="211.7" y="48.7" width="0.55" height="19.9" fill="#000" fill-opacity="0.21"/><rect x="212.2" y="48.7" width="0.55" height="19.9" fill="#000" fill-opacity="0.21"/><rect x="212.7" y="48.7" width="0.55" height="19.9" fill="#000" fill-opacity="0.21"/><rect x="213.2" y="48.7" width="0.55" height="19.9" fill="#000" fill-opacity="0.21"/><rect x="213.7" y="48.7" width="0.55" height="19.9" fill="#000" fill-opacity="0.21"/><rect x="214.2" y="48.7" width="0.55" height="19.9" fill="#000" fill-opacity="0.21"/><rect x="214.7" y="48.7" width="0.55" height="19.9" fill="#000" fill-opacity="0.21"/><rect x="215.2" y="48.7" width="0.55" height="19.9" fill="#000" fill-opacity="0.21"/><rect x="215.7" y="48.7" width="0.55" height="19.9" fill="#000" fill-opacity="0.21"/><rect x="216.2" y="48.7" width="0.55" height="19.9" fill="#000" fill-opacity="0.21"/><rect x="216.7" y="48.7" width="0.55" height="19.9" fill="#000" fill-opacity="0.21"/><rect x="217.2" y="48.7" width="0.55" height="19.9" fill="#000" fill-opacity="0.21"/><rect x="217.7" y="48.7" width="0.55" height="19.9" fill="#000" fill-opacity="0.21"/><rect x="218.2" y="48.7" width="0.55" height="19.9" fill="#000" fill-opacity="0.21"/><rect x="218.7" y="48.7" width="0.55" height="19.9" fill="#000" fill-opacity="0.21"/><rect x="219.2" y="48.7" width="0.55" height="19.9" fill="#000" fill-opacity="0.21"/><rect x="219.7" y="48.7" width="0.55" height="19.9" fill="#000" fill-opacity="0.21"/><rect x="220.2" y="48.7" width="0.55" height="19.9" fill="#000" fill-opacity="0.21"/><rect x="220.7" y="48.7" width="0.55" height="19.9" fill="#000" fill-opacity="0.21"/><rect x="221.2" y="48.7" width="0.55" height="19.9" fill="#000" fill-opacity="0.21"/><rect x="221.7" y="48.7" width="0.55" height="19.9" fill="#000" fill-opacity="0.21"/><rect x="222.2" y="48.7" width="0.55" height="19.9" fill="#000" fill-opacity="0.21"/><rect x="222.7" y="48.7" width="0.55" height="19.9" fill="#000" fill-opacity="0.21"/><rect x="223.2" y="48.7" width="0.55" height="19.9" fill="#000" fill-opacity="0.21"/><rect x="223.7" y="48.7" width="0.55" height="19.9" fill="#000" fill-opacity="0.21"/><rect x="224.2" y="48.7" width="0.55" height="19.9" fill="#000" fill-opacity="0.21"/><rect x="224.7" y="48.7" width="0.55" height="19.9" fill="#000" fill-opacity="0.21"/><rect x="225.2" y="48.7" width="0.55" height="19.9" fill="#000" fill-opacity="0.21"/><rect x="225.7" y="48.7" width="0.55" height="19.9" fill="#000" fill-opacity="0.21"/><rect x="226.2" y="48.7" width="0.55" height="19.9" fill="#000" fill-opacity="0.21"/><rect x="226.7" y="48.7" width="0.55" height="19.9" fill="#000" fill-opacity="0.21"/><rect x="227.2" y="48.7" width="0.55" height="19.9" fill="#000" fill-opacity="0.21"/><rect x="227.7" y="48.7" width="0.55" height="19.9" fill="#000" fill-opacity="0.21"/><rect x="228.2" y="48.7" width="0.55" height="19.9" fill="#000" fill-opacity="0.21"/><rect x="228.7" y="48.7" width="0.55" height="19.9" fill="#000" fill-opacity="0.21"/><rect x="229.2" y="48.7" width="0.55" height="19.9" fill="#000" fill-opacity="0.21"/><rect x="229.7" y="48.7" width="0.55" height="19.9" fill="#000" fill-opacity="0.21"/><rect x="230.2" y="48.7" width="0.55" height="19.9" fill="#000" fill-opacity="0.21"/><rect x="230.7" y="48.7" width="0.55" height="19.9" fill="#000" fill-opacity="0.21"/><rect x="231.2" y="48.7" width="0.55" height="19.9" fill="#000" fill-opacity="0.21"/><rect x="231.7" y="48.7" width="0.55" height="19.9" fill="#000" fill-opacity="0.21"/><rect x="232.2" y="48.7" width="0.55" height="19.9" fill="#000" fill-opacity="0.21"/><rect x="232.7" y="48.7" width="0.55" height="19.9" fill="#000" fill-opacity="0.21"/><rect x="233.2" y="48.7" width="0.55" height="19.9" fill="#000" fill-opacity="0.21"/><rect x="233.7" y="48.7" width="0.55" height="19.9" fill="#000" fill-opacity="0.21"/><rect x="234.2" y="48.7" width="0.55" height="19.9" fill="#000" fill-opacity="0.21"/><rect x="234.7" y="48.7" width="0.55" height="19.9" fill="#000" fill-opacity="0.21"/><rect x="235.2" y="48.7" width="0.55" height="19.9" fill="#000" fill-opacity="0.21"/><rect x="235.7" y="48.7" width="0.55" height="19.9" fill="#000" fill-opacity="0.21"/><rect x="236.2" y="48.7" width="0.55" height="19.9" fill="#000" fill-opacity="0.38"/><rect x="236.7" y="48.7" width="0.55" height="19.9" fill="#000" fill-opacity="0.38"/><rect x="237.2" y="48.7" width="0.55" height="19.9" fill="#000" fill-opacity="0.38"/><rect x="237.7" y="48.7" width="0.55" height="19.9" fill="#000" fill-opacity="0.38"/><rect x="238.2" y="48.7" width="0.55" height="19.9" fill="#000" fill-opacity="0.38"/><rect x="238.7" y="48.7" width="0.55" height="19.9" fill="#000" fill-opacity="0.38"/><rect x="239.2" y="48.7" width="0.55" height="19.9" fill="#000" fill-opacity="0.38"/><rect x="239.7" y="48.7" width="0.55" height="19.9" fill="#000" fill-opacity="0.38"/><rect x="240.2" y="48.7" width="0.55" height="19.9" fill="#000" fill-opacity="0.38"/><rect x="240.7" y="48.7" width="0.55" height="19.9" fill="#000" fill-opacity="0.38"/><rect x="185.2" y="48.2" width="1.08" height="10.45" fill="#000" fill-opacity="1"/><rect x="185.2" y="58.65" width="1.08" height="10.06" fill="#000" fill-opacity="0.83"/><rect x="186.23" y="47.68" width="1.23" height="10.97" fill="#000" fill-opacity="1"/><rect x="186.23" y="58.65" width="1.23" height="10.11" fill="#000" fill-opacity="0.81"/><rect x="187.4" y="49.97" width="1.35" height="8.68" fill="#000" fill-opacity="1"/><rect x="187.4" y="58.65" width="1.35" height="10.44" fill="#000" fill-opacity="0.94"/><rect x="188.7" y="47.79" width="1.44" height="10.86" fill="#000" fill-opacity="0.5"/><rect x="188.7" y="58.65" width="1.44" height="10.89" fill="#000" fill-opacity="0.41"/><rect x="190.09" y="48.72" width="1.13" height="9.93" fill="#000" fill-opacity="0.71"/><rect x="190.09" y="58.65" width="1.13" height="10.75" fill="#000" fill-opacity="0.62"/><rect x="191.18" y="48.59" width="1.52" height="10.06" fill="#000" fill-opacity="0.82"/><rect x="191.18" y="58.65" width="1.52" height="9.01" fill="#000" fill-opacity="0.52"/><rect x="192.64" y="48.46" width="0.73" height="10.19" fill="#000" fill-opacity="0.58"/><rect x="192.64" y="58.65" width="0.73" height="10.7" fill="#000" fill-opacity="0.44"/><rect x="193.32" y="48.16" width="1.18" height="10.49" fill="#000" fill-opacity="0.53"/><rect x="193.32" y="58.65" width="1.18" height="10.31" fill="#000" fill-opacity="0.38"/><rect x="194.45" y="47.82" width="0.91" height="10.83" fill="#000" fill-opacity="0.58"/><rect x="194.45" y="58.65" width="0.91" height="9.97" fill="#000" fill-opacity="0.36"/><rect x="195.31" y="48.21" width="1.23" height="10.44" fill="#000" fill-opacity="0.59"/><rect x="195.31" y="58.65" width="1.23" height="10.41" fill="#000" fill-opacity="0.41"/><rect x="196.49" y="49.15" width="1.12" height="9.5" fill="#000" fill-opacity="0.39"/><rect x="196.49" y="58.65" width="1.12" height="10.65" fill="#000" fill-opacity="0.43"/><rect x="197.56" y="48.6" width="0.97" height="10.05" fill="#000" fill-opacity="0.52"/><rect x="197.56" y="58.65" width="0.97" height="10.82" fill="#000" fill-opacity="0.46"/><rect x="198.48" y="47.88" width="1.18" height="10.77" fill="#000" fill-opacity="0.62"/><rect x="198.48" y="58.65" width="1.18" height="10.77" fill="#000" fill-opacity="0.38"/><rect x="199.61" y="47.66" width="1.27" height="10.99" fill="#000" fill-opacity="0.65"/><rect x="199.61" y="58.65" width="1.27" height="9.19" fill="#000" fill-opacity="0.59"/><rect x="200.83" y="47.77" width="1.26" height="10.88" fill="#000" fill-opacity="0.38"/><rect x="200.83" y="58.65" width="1.26" height="8.27" fill="#000" fill-opacity="0.2"/><rect x="202.04" y="47.73" width="1.13" height="10.92" fill="#000" fill-opacity="0.22"/><rect x="202.04" y="58.65" width="1.13" height="8.63" fill="#000" fill-opacity="0.22"/><rect x="203.11" y="48.12" width="1.03" height="10.53" fill="#000" fill-opacity="0.23"/><rect x="203.11" y="58.65" width="1.03" height="10.59" fill="#000" fill-opacity="0.2"/><rect x="204.09" y="48.56" width="1.5" height="10.09" fill="#000" fill-opacity="0.5"/><rect x="204.09" y="58.65" width="1.5" height="10.63" fill="#000" fill-opacity="0.24"/><rect x="205.54" y="48.15" width="1.52" height="10.5" fill="#000" fill-opacity="0.87"/><rect x="205.54" y="58.65" width="1.52" height="10.12" fill="#000" fill-opacity="0.38"/><rect x="207.01" y="48.58" width="1.48" height="10.07" fill="#000" fill-opacity="0.83"/><rect x="207.01" y="58.65" width="1.48" height="9.42" fill="#000" fill-opacity="0.42"/><rect x="208.44" y="50.24" width="0.7" height="8.41" fill="#000" fill-opacity="0.45"/><rect x="208.44" y="58.65" width="0.7" height="11" fill="#000" fill-opacity="0.38"/><rect x="209.09" y="48.45" width="0.8" height="10.2" fill="#000" fill-opacity="0.09"/><rect x="209.09" y="58.65" width="0.8" height="10.18" fill="#000" fill-opacity="0.1"/><rect x="209.84" y="49.06" width="1.21" height="9.59" fill="#000" fill-opacity="0.39"/><rect x="209.84" y="58.65" width="1.21" height="10.76" fill="#000" fill-opacity="0.27"/><rect x="211" y="47.6" width="1.42" height="11.05" fill="#000" fill-opacity="0.12"/><rect x="211" y="58.65" width="1.42" height="10.77" fill="#000" fill-opacity="0.1"/><rect x="212.37" y="47.88" width="1.04" height="10.77" fill="#000" fill-opacity="0.4"/><rect x="212.37" y="58.65" width="1.04" height="10.28" fill="#000" fill-opacity="0.2"/><rect x="213.35" y="48.25" width="1.37" height="10.4" fill="#000" fill-opacity="0.72"/><rect x="213.35" y="58.65" width="1.37" height="10.7" fill="#000" fill-opacity="0.44"/><rect x="214.67" y="48.21" width="0.89" height="10.44" fill="#000" fill-opacity="0.39"/><rect x="214.67" y="58.65" width="0.89" height="10.48" fill="#000" fill-opacity="0.36"/><rect x="215.52" y="47.65" width="1.07" height="11" fill="#000" fill-opacity="0.41"/><rect x="215.52" y="58.65" width="1.07" height="10.36" fill="#000" fill-opacity="0.28"/><rect x="216.53" y="48.92" width="1.29" height="9.73" fill="#000" fill-opacity="0.52"/><rect x="216.53" y="58.65" width="1.29" height="10.68" fill="#000" fill-opacity="0.4"/><rect x="217.78" y="47.64" width="0.67" height="11.01" fill="#000" fill-opacity="0.18"/><rect x="217.78" y="58.65" width="0.67" height="9.06" fill="#000" fill-opacity="0.11"/><rect x="218.4" y="48.4" width="0.75" height="10.25" fill="#000" fill-opacity="0.37"/><rect x="218.4" y="58.65" width="0.75" height="11.08" fill="#000" fill-opacity="0.31"/><rect x="219.1" y="50.33" width="1.28" height="8.32" fill="#000" fill-opacity="0.57"/><rect x="219.1" y="58.65" width="1.28" height="10.43" fill="#000" fill-opacity="0.51"/><rect x="220.33" y="48" width="1.52" height="10.65" fill="#000" fill-opacity="0.85"/><rect x="220.33" y="58.65" width="1.52" height="10.45" fill="#000" fill-opacity="0.44"/><rect x="221.8" y="48.6" width="1.32" height="10.05" fill="#000" fill-opacity="0.4"/><rect x="221.8" y="58.65" width="1.32" height="10.62" fill="#000" fill-opacity="0.31"/><rect x="223.07" y="48.15" width="1.42" height="10.5" fill="#000" fill-opacity="0.17"/><rect x="223.07" y="58.65" width="1.42" height="10.34" fill="#000" fill-opacity="0.13"/><rect x="224.44" y="48.65" width="1.08" height="10" fill="#000" fill-opacity="0.57"/><rect x="224.44" y="58.65" width="1.08" height="10.72" fill="#000" fill-opacity="0.28"/><rect x="225.47" y="48.58" width="1.17" height="10.07" fill="#000" fill-opacity="0.3"/><rect x="225.47" y="58.65" width="1.17" height="11.12" fill="#000" fill-opacity="0.38"/><rect x="226.59" y="48.28" width="1.45" height="10.37" fill="#000" fill-opacity="0.26"/><rect x="226.59" y="58.65" width="1.45" height="10.94" fill="#000" fill-opacity="0.27"/><rect x="227.99" y="50.2" width="1.42" height="8.45" fill="#000" fill-opacity="0.64"/><rect x="227.99" y="58.65" width="1.42" height="10.11" fill="#000" fill-opacity="0.55"/><rect x="229.37" y="48.04" width="0.68" height="10.61" fill="#000" fill-opacity="0.3"/><rect x="229.37" y="58.65" width="0.68" height="10.14" fill="#000" fill-opacity="0.22"/><rect x="230" y="49.13" width="1" height="9.52" fill="#000" fill-opacity="0.34"/><rect x="230" y="58.65" width="1" height="10.82" fill="#000" fill-opacity="0.39"/><rect x="230.95" y="47.94" width="1.26" height="10.71" fill="#000" fill-opacity="0.42"/><rect x="230.95" y="58.65" width="1.26" height="10.35" fill="#000" fill-opacity="0.29"/><rect x="232.16" y="47.64" width="1.13" height="11.01" fill="#000" fill-opacity="0.64"/><rect x="232.16" y="58.65" width="1.13" height="10.73" fill="#000" fill-opacity="0.44"/><rect x="233.24" y="48.6" width="0.98" height="10.05" fill="#000" fill-opacity="0.2"/><rect x="233.24" y="58.65" width="0.98" height="11.02" fill="#000" fill-opacity="0.13"/><rect x="234.18" y="48.44" width="1.06" height="10.21" fill="#000" fill-opacity="0.31"/><rect x="234.18" y="58.65" width="1.06" height="11.07" fill="#000" fill-opacity="0.2"/><rect x="235.19" y="47.66" width="0.7" height="10.99" fill="#000" fill-opacity="0.39"/><rect x="235.19" y="58.65" width="0.7" height="10.82" fill="#000" fill-opacity="0.34"/><rect x="235.84" y="50.04" width="0.97" height="8.61" fill="#000" fill-opacity="0.26"/><rect x="235.84" y="58.65" width="0.97" height="10.34" fill="#000" fill-opacity="0.29"/><rect x="236.76" y="47.97" width="1.25" height="10.68" fill="#000" fill-opacity="0.79"/><rect x="236.76" y="58.65" width="1.25" height="11" fill="#000" fill-opacity="0.55"/><rect x="237.96" y="47.85" width="0.98" height="10.8" fill="#000" fill-opacity="0.76"/><rect x="237.96" y="58.65" width="0.98" height="10.62" fill="#000" fill-opacity="0.41"/><rect x="238.89" y="47.86" width="1.27" height="10.79" fill="#000" fill-opacity="1"/><rect x="238.89" y="58.65" width="1.27" height="10.57" fill="#000" fill-opacity="0.59"/><rect x="240.11" y="47.74" width="1.21" height="10.91" fill="#000" fill-opacity="1"/><rect x="240.11" y="58.65" width="1.21" height="10.9" fill="#000" fill-opacity="1"/></g>
<line x1="32.85" y1="58.7" x2="98.25" y2="58.7" stroke="#000" stroke-width="3.5" stroke-linecap="round"/>
<line x1="108.65" y1="59" x2="171.65" y2="59" stroke="#000" stroke-width="3.5" stroke-linecap="round"/>
<line x1="183.05" y1="58.5" x2="243.85" y2="58.5" stroke="#000" stroke-width="3.5" stroke-linecap="round"/>
<g filter="url(#bl)"><rect x="36" y="113.33" width="0.85" height="8.67" fill="#000" fill-opacity="0.43"/><rect x="36" y="122" width="0.85" height="17.04" fill="#000" fill-opacity="0.48"/><rect x="36.8" y="113.68" width="1.14" height="8.32" fill="#000" fill-opacity="0.33"/><rect x="36.8" y="122" width="1.14" height="17.19" fill="#000" fill-opacity="0.24"/><rect x="37.9" y="113.37" width="0.6" height="8.63" fill="#000" fill-opacity="0.77"/><rect x="37.9" y="122" width="0.6" height="17.35" fill="#000" fill-opacity="1"/><rect x="38.45" y="112.53" width="0.61" height="9.47" fill="#000" fill-opacity="0.66"/><rect x="38.45" y="122" width="0.61" height="16.98" fill="#000" fill-opacity="0.85"/><rect x="39" y="113.68" width="0.8" height="8.32" fill="#000" fill-opacity="0.55"/><rect x="39" y="122" width="0.8" height="17.34" fill="#000" fill-opacity="0.47"/><rect x="39.75" y="112.71" width="0.77" height="9.29" fill="#000" fill-opacity="0.84"/><rect x="39.75" y="122" width="0.77" height="16.64" fill="#000" fill-opacity="0.92"/></g>
<g filter="url(#bl)"><rect x="40.5" y="112.52" width="0.9" height="9.48" fill="#000" fill-opacity="0.11"/><rect x="40.5" y="122" width="0.9" height="17.15" fill="#000" fill-opacity="0.09"/><rect x="42.68" y="113.61" width="0.9" height="8.39" fill="#000" fill-opacity="0.32"/><rect x="42.68" y="122" width="0.9" height="16.53" fill="#000" fill-opacity="0.21"/><rect x="45.11" y="113.23" width="0.9" height="8.77" fill="#000" fill-opacity="0.37"/><rect x="45.11" y="122" width="0.9" height="15.98" fill="#000" fill-opacity="0.18"/><rect x="47.28" y="112.85" width="0.9" height="9.15" fill="#000" fill-opacity="0.22"/><rect x="47.28" y="122" width="0.9" height="17.13" fill="#000" fill-opacity="0.16"/><rect x="49.3" y="112.63" width="0.9" height="9.37" fill="#000" fill-opacity="0.23"/><rect x="49.3" y="122" width="0.9" height="15.62" fill="#000" fill-opacity="0.14"/><rect x="52.92" y="113.26" width="0.9" height="8.74" fill="#000" fill-opacity="0.3"/><rect x="52.92" y="122" width="0.9" height="17.28" fill="#000" fill-opacity="0.19"/><rect x="56.75" y="113.42" width="0.9" height="8.58" fill="#000" fill-opacity="0.33"/><rect x="56.75" y="122" width="0.9" height="17.22" fill="#000" fill-opacity="0.25"/><rect x="59.21" y="115.38" width="0.9" height="6.62" fill="#000" fill-opacity="0.3"/><rect x="59.21" y="122" width="0.9" height="17.15" fill="#000" fill-opacity="0.15"/><rect x="62.68" y="115.18" width="0.9" height="6.82" fill="#000" fill-opacity="0.2"/><rect x="62.68" y="122" width="0.9" height="17.2" fill="#000" fill-opacity="0.16"/><rect x="65.91" y="113.19" width="0.9" height="8.81" fill="#000" fill-opacity="0.17"/><rect x="65.91" y="122" width="0.9" height="17.25" fill="#000" fill-opacity="0.1"/><rect x="69.91" y="113.97" width="0.9" height="8.03" fill="#000" fill-opacity="0.44"/><rect x="69.91" y="122" width="0.9" height="14.51" fill="#000" fill-opacity="0.31"/><rect x="71.99" y="113.98" width="0.9" height="8.02" fill="#000" fill-opacity="0.12"/><rect x="71.99" y="122" width="0.9" height="16.97" fill="#000" fill-opacity="0.06"/><rect x="74.87" y="112.78" width="0.9" height="9.22" fill="#000" fill-opacity="0.39"/><rect x="74.87" y="122" width="0.9" height="17.07" fill="#000" fill-opacity="0.2"/><rect x="77.28" y="114.65" width="0.9" height="7.35" fill="#000" fill-opacity="0.53"/><rect x="77.28" y="122" width="0.9" height="17.04" fill="#000" fill-opacity="0.27"/><rect x="81.02" y="113.27" width="0.9" height="8.73" fill="#000" fill-opacity="0.22"/><rect x="81.02" y="122" width="0.9" height="16.87" fill="#000" fill-opacity="0.1"/><rect x="84.62" y="114.51" width="0.9" height="7.49" fill="#000" fill-opacity="0.36"/><rect x="84.62" y="122" width="0.9" height="14.8" fill="#000" fill-opacity="0.19"/><rect x="88.55" y="112.98" width="0.9" height="9.02" fill="#000" fill-opacity="0.3"/><rect x="88.55" y="122" width="0.9" height="15.11" fill="#000" fill-opacity="0.25"/><rect x="91.49" y="113.16" width="0.9" height="8.84" fill="#000" fill-opacity="0.2"/><rect x="91.49" y="122" width="0.9" height="17.26" fill="#000" fill-opacity="0.17"/><rect x="95.25" y="114.59" width="0.9" height="7.41" fill="#000" fill-opacity="0.2"/><rect x="95.25" y="122" width="0.9" height="15.82" fill="#000" fill-opacity="0.08"/><rect x="97.4" y="114.98" width="0.9" height="7.02" fill="#000" fill-opacity="0.32"/><rect x="97.4" y="122" width="0.9" height="16.85" fill="#000" fill-opacity="0.15"/><rect x="92.7" y="113" width="1" height="26.5" fill="#000" fill-opacity="0.45"/></g>
<g filter="url(#bl)"><rect x="111.8" y="112.61" width="1.03" height="9.89" fill="#000" fill-opacity="0.11"/><rect x="111.8" y="122.5" width="1.03" height="17.24" fill="#000" fill-opacity="0.1"/><rect x="112.78" y="113.48" width="0.73" height="9.02" fill="#000" fill-opacity="0.25"/><rect x="112.78" y="122.5" width="0.73" height="17.81" fill="#000" fill-opacity="0.3"/><rect x="113.47" y="113.21" width="0.59" height="9.29" fill="#000" fill-opacity="0.41"/><rect x="113.47" y="122.5" width="0.59" height="16.9" fill="#000" fill-opacity="0.42"/><rect x="114" y="112.96" width="0.53" height="9.54" fill="#000" fill-opacity="0.51"/><rect x="114" y="122.5" width="0.53" height="16.78" fill="#000" fill-opacity="0.51"/><rect x="114.48" y="113.01" width="0.99" height="9.49" fill="#000" fill-opacity="0.34"/><rect x="114.48" y="122.5" width="0.99" height="17.31" fill="#000" fill-opacity="0.25"/><rect x="115.42" y="113.07" width="1.1" height="9.43" fill="#000" fill-opacity="0.3"/><rect x="115.42" y="122.5" width="1.1" height="17.27" fill="#000" fill-opacity="0.28"/><rect x="116.47" y="113.34" width="1.07" height="9.16" fill="#000" fill-opacity="0.22"/><rect x="116.47" y="122.5" width="1.07" height="15.22" fill="#000" fill-opacity="0.17"/><rect x="117.49" y="112.94" width="0.78" height="9.56" fill="#000" fill-opacity="0.33"/><rect x="117.49" y="122.5" width="0.78" height="16.72" fill="#000" fill-opacity="0.23"/><rect x="118.21" y="112.84" width="1.07" height="9.66" fill="#000" fill-opacity="0.21"/><rect x="118.21" y="122.5" width="1.07" height="16.85" fill="#000" fill-opacity="0.15"/><rect x="119.23" y="113.01" width="0.86" height="9.49" fill="#000" fill-opacity="0.2"/><rect x="119.23" y="122.5" width="0.86" height="17.36" fill="#000" fill-opacity="0.21"/><rect x="120.04" y="113.33" width="0.73" height="9.17" fill="#000" fill-opacity="0.27"/><rect x="120.04" y="122.5" width="0.73" height="17.52" fill="#000" fill-opacity="0.28"/><rect x="120.72" y="112.45" width="0.78" height="10.05" fill="#000" fill-opacity="0.26"/><rect x="120.72" y="122.5" width="0.78" height="17.43" fill="#000" fill-opacity="0.19"/><rect x="113.9" y="112.5" width="1" height="27.9" fill="#000" fill-opacity="0.8"/></g>
<g filter="url(#bl)"><rect x="121" y="112.94" width="0.9" height="9.56" fill="#000" fill-opacity="0.3"/><rect x="121" y="122.5" width="0.9" height="15.57" fill="#000" fill-opacity="0.2"/><rect x="123.83" y="112.34" width="0.9" height="10.16" fill="#000" fill-opacity="0.13"/><rect x="123.83" y="122.5" width="0.9" height="17.56" fill="#000" fill-opacity="0.06"/><rect x="126.5" y="115.22" width="0.9" height="7.28" fill="#000" fill-opacity="0.14"/><rect x="126.5" y="122.5" width="0.9" height="16.97" fill="#000" fill-opacity="0.08"/><rect x="128.19" y="113.43" width="0.9" height="9.07" fill="#000" fill-opacity="0.37"/><rect x="128.19" y="122.5" width="0.9" height="16.74" fill="#000" fill-opacity="0.24"/><rect x="130.04" y="113" width="0.9" height="9.5" fill="#000" fill-opacity="0.18"/><rect x="130.04" y="122.5" width="0.9" height="15.78" fill="#000" fill-opacity="0.1"/><rect x="133.24" y="115.23" width="0.9" height="7.27" fill="#000" fill-opacity="0.11"/><rect x="133.24" y="122.5" width="0.9" height="17" fill="#000" fill-opacity="0.11"/><rect x="134.76" y="113.05" width="0.9" height="9.45" fill="#000" fill-opacity="0.14"/><rect x="134.76" y="122.5" width="0.9" height="17.54" fill="#000" fill-opacity="0.07"/><rect x="137.72" y="113.2" width="0.9" height="9.3" fill="#000" fill-opacity="0.35"/><rect x="137.72" y="122.5" width="0.9" height="15.32" fill="#000" fill-opacity="0.13"/><rect x="139.36" y="114.41" width="0.9" height="8.09" fill="#000" fill-opacity="0.29"/><rect x="139.36" y="122.5" width="0.9" height="17.08" fill="#000" fill-opacity="0.16"/><rect x="141.36" y="113.48" width="0.9" height="9.02" fill="#000" fill-opacity="0.37"/><rect x="141.36" y="122.5" width="0.9" height="16.68" fill="#000" fill-opacity="0.26"/><rect x="142.87" y="112.89" width="0.9" height="9.61" fill="#000" fill-opacity="0.35"/><rect x="142.87" y="122.5" width="0.9" height="17.74" fill="#000" fill-opacity="0.18"/><rect x="144.34" y="113.56" width="0.9" height="8.94" fill="#000" fill-opacity="0.14"/><rect x="144.34" y="122.5" width="0.9" height="16.79" fill="#000" fill-opacity="0.11"/><rect x="145.87" y="113.51" width="0.9" height="8.99" fill="#000" fill-opacity="0.32"/><rect x="145.87" y="122.5" width="0.9" height="17.45" fill="#000" fill-opacity="0.17"/><rect x="147.91" y="112.96" width="0.9" height="9.54" fill="#000" fill-opacity="0.2"/><rect x="147.91" y="122.5" width="0.9" height="17.82" fill="#000" fill-opacity="0.14"/><rect x="150.45" y="112.88" width="0.9" height="9.62" fill="#000" fill-opacity="0.46"/><rect x="150.45" y="122.5" width="0.9" height="15.83" fill="#000" fill-opacity="0.24"/><rect x="152.46" y="113.12" width="0.9" height="9.38" fill="#000" fill-opacity="0.16"/><rect x="152.46" y="122.5" width="0.9" height="17.3" fill="#000" fill-opacity="0.09"/><rect x="154.58" y="113.13" width="0.9" height="9.37" fill="#000" fill-opacity="0.11"/><rect x="154.58" y="122.5" width="0.9" height="16.75" fill="#000" fill-opacity="0.06"/><rect x="157.89" y="113.11" width="0.9" height="9.39" fill="#000" fill-opacity="0.35"/><rect x="157.89" y="122.5" width="0.9" height="17.16" fill="#000" fill-opacity="0.27"/><rect x="159.47" y="112.38" width="0.9" height="10.12" fill="#000" fill-opacity="0.2"/><rect x="159.47" y="122.5" width="0.9" height="17.37" fill="#000" fill-opacity="0.16"/><rect x="162.45" y="114.98" width="0.9" height="7.52" fill="#000" fill-opacity="0.15"/><rect x="162.45" y="122.5" width="0.9" height="16.74" fill="#000" fill-opacity="0.09"/><rect x="164.22" y="115.01" width="0.9" height="7.49" fill="#000" fill-opacity="0.11"/><rect x="164.22" y="122.5" width="0.9" height="16.68" fill="#000" fill-opacity="0.05"/><rect x="166.14" y="112.65" width="0.9" height="9.85" fill="#000" fill-opacity="0.25"/><rect x="166.14" y="122.5" width="0.9" height="15.05" fill="#000" fill-opacity="0.13"/></g>
<g filter="url(#bl)"><rect x="186" y="114.71" width="0.66" height="7.89" fill="#000" fill-opacity="0.53"/><rect x="186" y="122.6" width="0.66" height="16.73" fill="#000" fill-opacity="0.69"/><rect x="186.61" y="112.71" width="0.89" height="9.89" fill="#000" fill-opacity="0.22"/><rect x="186.61" y="122.6" width="0.89" height="17.63" fill="#000" fill-opacity="0.22"/><rect x="187.45" y="113.28" width="0.71" height="9.32" fill="#000" fill-opacity="1"/><rect x="187.45" y="122.6" width="0.71" height="16.86" fill="#000" fill-opacity="1"/><rect x="188.11" y="113.32" width="0.72" height="9.28" fill="#000" fill-opacity="1"/><rect x="188.11" y="122.6" width="0.72" height="16.53" fill="#000" fill-opacity="0.88"/><rect x="188.78" y="112.62" width="1.03" height="9.98" fill="#000" fill-opacity="0.32"/><rect x="188.78" y="122.6" width="1.03" height="17.22" fill="#000" fill-opacity="0.41"/><rect x="189.76" y="113.41" width="1.12" height="9.19" fill="#000" fill-opacity="0.29"/><rect x="189.76" y="122.6" width="1.12" height="17.35" fill="#000" fill-opacity="0.42"/><rect x="190.83" y="112.63" width="0.5" height="9.97" fill="#000" fill-opacity="0.3"/><rect x="190.83" y="122.6" width="0.5" height="15.12" fill="#000" fill-opacity="0.4"/><rect x="191.28" y="113.76" width="0.74" height="8.84" fill="#000" fill-opacity="0.3"/><rect x="191.28" y="122.6" width="0.74" height="17.06" fill="#000" fill-opacity="0.25"/><rect x="191.97" y="114.24" width="1.05" height="8.36" fill="#000" fill-opacity="0.33"/><rect x="191.97" y="122.6" width="1.05" height="17.48" fill="#000" fill-opacity="0.26"/><rect x="192.96" y="113.24" width="0.86" height="9.36" fill="#000" fill-opacity="0.39"/><rect x="192.96" y="122.6" width="0.86" height="16.21" fill="#000" fill-opacity="0.41"/><rect x="193.77" y="113.12" width="0.8" height="9.48" fill="#000" fill-opacity="0.23"/><rect x="193.77" y="122.6" width="0.8" height="17.75" fill="#000" fill-opacity="0.22"/><rect x="194.52" y="113.71" width="1.11" height="8.89" fill="#000" fill-opacity="0.37"/><rect x="194.52" y="122.6" width="1.11" height="17.63" fill="#000" fill-opacity="0.36"/><rect x="195.58" y="115.16" width="0.85" height="7.44" fill="#000" fill-opacity="0.3"/><rect x="195.58" y="122.6" width="0.85" height="17.1" fill="#000" fill-opacity="0.47"/><rect x="196.38" y="113.11" width="0.52" height="9.49" fill="#000" fill-opacity="0.25"/><rect x="196.38" y="122.6" width="0.52" height="17.06" fill="#000" fill-opacity="0.23"/><rect x="196.85" y="113.32" width="1.02" height="9.28" fill="#000" fill-opacity="0.34"/><rect x="196.85" y="122.6" width="1.02" height="16.68" fill="#000" fill-opacity="0.28"/><rect x="197.83" y="113.16" width="0.55" height="9.44" fill="#000" fill-opacity="0.3"/><rect x="197.83" y="122.6" width="0.55" height="17.09" fill="#000" fill-opacity="0.2"/><rect x="198.33" y="113.19" width="0.67" height="9.41" fill="#000" fill-opacity="0.33"/><rect x="198.33" y="122.6" width="0.67" height="17.4" fill="#000" fill-opacity="0.35"/><rect x="198.95" y="112.47" width="0.66" height="10.13" fill="#000" fill-opacity="0.23"/><rect x="198.95" y="122.6" width="0.66" height="17.06" fill="#000" fill-opacity="0.16"/></g>
<g filter="url(#bl)"><rect x="199" y="112.47" width="0.9" height="10.13" fill="#000" fill-opacity="0.24"/><rect x="199" y="122.6" width="0.9" height="16.64" fill="#000" fill-opacity="0.12"/><rect x="200.47" y="112.41" width="0.9" height="10.19" fill="#000" fill-opacity="0.46"/><rect x="200.47" y="122.6" width="0.9" height="16.96" fill="#000" fill-opacity="0.28"/><rect x="202.95" y="113.27" width="0.9" height="9.33" fill="#000" fill-opacity="0.24"/><rect x="202.95" y="122.6" width="0.9" height="17.52" fill="#000" fill-opacity="0.12"/><rect x="205.95" y="112.88" width="0.9" height="9.72" fill="#000" fill-opacity="0.39"/><rect x="205.95" y="122.6" width="0.9" height="17.57" fill="#000" fill-opacity="0.23"/><rect x="209.18" y="112.67" width="0.9" height="9.93" fill="#000" fill-opacity="0.14"/><rect x="209.18" y="122.6" width="0.9" height="17.69" fill="#000" fill-opacity="0.06"/><rect x="211.78" y="113.02" width="0.9" height="9.58" fill="#000" fill-opacity="0.17"/><rect x="211.78" y="122.6" width="0.9" height="16.75" fill="#000" fill-opacity="0.1"/><rect x="213.63" y="112.75" width="0.9" height="9.85" fill="#000" fill-opacity="0.28"/><rect x="213.63" y="122.6" width="0.9" height="17.65" fill="#000" fill-opacity="0.23"/><rect x="215.64" y="112.41" width="0.9" height="10.19" fill="#000" fill-opacity="0.19"/><rect x="215.64" y="122.6" width="0.9" height="16.76" fill="#000" fill-opacity="0.09"/><rect x="218.65" y="112.53" width="0.9" height="10.07" fill="#000" fill-opacity="0.29"/><rect x="218.65" y="122.6" width="0.9" height="17.26" fill="#000" fill-opacity="0.1"/><rect x="221.93" y="112.84" width="0.9" height="9.76" fill="#000" fill-opacity="0.17"/><rect x="221.93" y="122.6" width="0.9" height="17.49" fill="#000" fill-opacity="0.09"/><rect x="223.84" y="112.9" width="0.9" height="9.7" fill="#000" fill-opacity="0.08"/><rect x="223.84" y="122.6" width="0.9" height="17.24" fill="#000" fill-opacity="0.08"/><rect x="226.69" y="112.89" width="0.9" height="9.71" fill="#000" fill-opacity="0.22"/><rect x="226.69" y="122.6" width="0.9" height="14.99" fill="#000" fill-opacity="0.19"/><rect x="228.88" y="112.75" width="0.9" height="9.85" fill="#000" fill-opacity="0.09"/><rect x="228.88" y="122.6" width="0.9" height="17.2" fill="#000" fill-opacity="0.04"/><rect x="231.65" y="113.71" width="0.9" height="8.89" fill="#000" fill-opacity="0.44"/><rect x="231.65" y="122.6" width="0.9" height="16.71" fill="#000" fill-opacity="0.27"/><rect x="234.03" y="112.87" width="0.9" height="9.73" fill="#000" fill-opacity="0.09"/><rect x="234.03" y="122.6" width="0.9" height="17.59" fill="#000" fill-opacity="0.06"/><rect x="235.52" y="113.37" width="0.9" height="9.23" fill="#000" fill-opacity="0.15"/><rect x="235.52" y="122.6" width="0.9" height="16.97" fill="#000" fill-opacity="0.15"/><rect x="238.74" y="112.87" width="0.9" height="9.73" fill="#000" fill-opacity="0.21"/><rect x="238.74" y="122.6" width="0.9" height="15.31" fill="#000" fill-opacity="0.13"/><rect x="241.25" y="112.82" width="0.9" height="9.78" fill="#000" fill-opacity="0.28"/><rect x="241.25" y="122.6" width="0.9" height="17.7" fill="#000" fill-opacity="0.15"/></g>
<line x1="33.5" y1="122" x2="99.7" y2="122" stroke="#000" stroke-width="4.5" stroke-linecap="butt"/>
<line x1="108.8" y1="122.5" x2="170" y2="122.5" stroke="#000" stroke-width="4.5" stroke-linecap="butt"/>
<line x1="182.5" y1="122.6" x2="248" y2="122.6" stroke="#000" stroke-width="4.5" stroke-linecap="butt"/>
<path d="M31.8,74.3 C36.04,74.3 35.27,79.7 39.5,79.7 L93.4,79.7 C95.27,79.7 94.93,74.3 96.8,74.3 L99.5,74.3" fill="none" stroke="#222" stroke-width="1.2"/>
<path d="M107,74.3 C110.85,74.3 110.15,82 114,82 L163.5,82 C167.07,82 166.43,74.3 170,74.3 L172,74.3" fill="none" stroke="#222" stroke-width="1.2"/>
<path d="M181.3,73.8 C185.65,73.8 184.85,84.3 189.2,84.3 L240,84.3 C242.47,84.3 242.03,73.8 244.5,73.8 L246.6,73.8" fill="none" stroke="#222" stroke-width="1.2"/>
<path d="M32.7,143.2 C36.44,143.2 35.76,149 39.5,149 L92.1,149 C94.47,149 94.03,143.2 96.4,143.2 L100.3,143.2" fill="none" stroke="#222" stroke-width="1.2"/>
<path d="M106.7,143.4 C111.27,143.4 110.44,151.2 115,151.2 L164.6,151.2 C166.91,151.2 166.49,143.4 168.8,143.4 L171.7,143.4" fill="none" stroke="#222" stroke-width="1.2"/>
<path d="M181.1,142.7 C185.34,142.7 184.56,153 188.8,153 L240.4,153 C242.27,153 241.93,142.7 243.8,142.7 L246.7,142.7" fill="none" stroke="#222" stroke-width="1.2"/>
<path d="M251.3,61.6 C251.58,61.45 252.5,61.55 253,60.7 C253.5,59.85 253.87,58.32 254.3,56.5 C254.73,54.68 255.13,49.48 255.6,49.8 C256.07,50.12 256.47,54.87 257.1,58.4 C257.73,61.93 258.73,69.47 259.4,71 C260.07,72.53 260.43,69.22 261.1,67.6 C261.77,65.98 262.63,62.83 263.4,61.3 C264.17,59.77 264.83,58.85 265.7,58.4 C266.57,57.95 268.12,58.57 268.6,58.6" fill="none" stroke="#222" stroke-width="1.25" stroke-linejoin="round"/>
<path d="M253,121.3 C253.2,120.83 253.7,119.47 254.2,118.5 C254.7,117.53 255.38,114.82 256,115.5 C256.62,116.18 257.2,118.62 257.9,122.6 C258.6,126.58 259.45,137.78 260.2,139.4 C260.95,141.02 261.7,135.85 262.4,132.3 C263.1,128.75 263.68,121.27 264.4,118.1 C265.12,114.93 265.95,113.63 266.7,113.3 C267.45,112.97 268,115.08 268.9,116.1 C269.8,117.12 271.08,118.25 272.1,119.4 C273.12,120.55 274.52,122.4 275,123" fill="none" stroke="#222" stroke-width="1.25" stroke-linejoin="round"/>
<line x1="331.4" y1="27.3" x2="331.4" y2="146.95" stroke="#111" stroke-width="1.3"/>
<line x1="330.7" y1="146.3" x2="485.9" y2="146.3" stroke="#111" stroke-width="1.3"/>
<line x1="329.4" y1="146.3" x2="331.4" y2="146.3" stroke="#111" stroke-width="1.1"/>
<text x="322.77" y="147.66" font-size="8.3" textLength="4.99" lengthAdjust="spacingAndGlyphs" style="" fill="#1a1a1a" stroke="#1a1a1a" stroke-width="0.34" >0</text>
<line x1="329.4" y1="134.44" x2="331.4" y2="134.44" stroke="#111" stroke-width="1.1"/>
<text x="322.86" y="135.8" font-size="8.3" textLength="4.99" lengthAdjust="spacingAndGlyphs" style="" fill="#1a1a1a" stroke="#1a1a1a" stroke-width="0.34" >2</text>
<line x1="329.4" y1="122.58" x2="331.4" y2="122.58" stroke="#111" stroke-width="1.1"/>
<text x="322.68" y="123.94" font-size="8.3" textLength="4.99" lengthAdjust="spacingAndGlyphs" style="" fill="#1a1a1a" stroke="#1a1a1a" stroke-width="0.34" >4</text>
<line x1="329.4" y1="110.72" x2="331.4" y2="110.72" stroke="#111" stroke-width="1.1"/>
<text x="322.81" y="112.08" font-size="8.3" textLength="4.99" lengthAdjust="spacingAndGlyphs" style="" fill="#1a1a1a" stroke="#1a1a1a" stroke-width="0.34" >6</text>
<line x1="329.4" y1="98.86" x2="331.4" y2="98.86" stroke="#111" stroke-width="1.1"/>
<text x="322.8" y="100.22" font-size="8.3" textLength="4.99" lengthAdjust="spacingAndGlyphs" style="" fill="#1a1a1a" stroke="#1a1a1a" stroke-width="0.34" >8</text>
<line x1="329.4" y1="87" x2="331.4" y2="87" stroke="#111" stroke-width="1.1"/>
<text x="317.78" y="88.36" font-size="8.3" textLength="9.97" lengthAdjust="spacingAndGlyphs" style="" fill="#1a1a1a" stroke="#1a1a1a" stroke-width="0.34" >10</text>
<line x1="329.4" y1="75.14" x2="331.4" y2="75.14" stroke="#111" stroke-width="1.1"/>
<text x="317.88" y="76.5" font-size="8.3" textLength="9.97" lengthAdjust="spacingAndGlyphs" style="" fill="#1a1a1a" stroke="#1a1a1a" stroke-width="0.34" >12</text>
<line x1="329.4" y1="63.28" x2="331.4" y2="63.28" stroke="#111" stroke-width="1.1"/>
<text x="317.69" y="64.64" font-size="8.3" textLength="9.97" lengthAdjust="spacingAndGlyphs" style="" fill="#1a1a1a" stroke="#1a1a1a" stroke-width="0.34" >14</text>
<line x1="329.4" y1="51.42" x2="331.4" y2="51.42" stroke="#111" stroke-width="1.1"/>
<text x="317.83" y="52.78" font-size="8.3" textLength="9.97" lengthAdjust="spacingAndGlyphs" style="" fill="#1a1a1a" stroke="#1a1a1a" stroke-width="0.34" >16</text>
<line x1="329.4" y1="39.56" x2="331.4" y2="39.56" stroke="#111" stroke-width="1.1"/>
<text x="317.82" y="40.92" font-size="8.3" textLength="9.97" lengthAdjust="spacingAndGlyphs" style="" fill="#1a1a1a" stroke="#1a1a1a" stroke-width="0.34" >18</text>
<line x1="329.4" y1="27.7" x2="331.4" y2="27.7" stroke="#111" stroke-width="1.1"/>
<text x="317.78" y="29.06" font-size="8.3" textLength="9.97" lengthAdjust="spacingAndGlyphs" style="" fill="#1a1a1a" stroke="#1a1a1a" stroke-width="0.34" >20</text>
<line x1="344.6" y1="146.3" x2="344.6" y2="148.3" stroke="#111" stroke-width="1.1"/>
<text x="342.11" y="157.5" font-size="8.3" textLength="4.99" lengthAdjust="spacingAndGlyphs" style="" fill="#1a1a1a" stroke="#1a1a1a" stroke-width="0.34" >0</text>
<line x1="370.3" y1="146.3" x2="370.3" y2="148.3" stroke="#111" stroke-width="1.1"/>
<text x="365.31" y="157.5" font-size="8.3" textLength="9.97" lengthAdjust="spacingAndGlyphs" style="" fill="#1a1a1a" stroke="#1a1a1a" stroke-width="0.34" >50</text>
<line x1="396" y1="146.3" x2="396" y2="148.3" stroke="#111" stroke-width="1.1"/>
<text x="388.36" y="157.5" font-size="8.3" textLength="14.96" lengthAdjust="spacingAndGlyphs" style="" fill="#1a1a1a" stroke="#1a1a1a" stroke-width="0.34" >100</text>
<line x1="421.7" y1="146.3" x2="421.7" y2="148.3" stroke="#111" stroke-width="1.1"/>
<text x="414.06" y="157.5" font-size="8.3" textLength="14.96" lengthAdjust="spacingAndGlyphs" style="" fill="#1a1a1a" stroke="#1a1a1a" stroke-width="0.34" >150</text>
<line x1="447.4" y1="146.3" x2="447.4" y2="148.3" stroke="#111" stroke-width="1.1"/>
<text x="439.87" y="157.5" font-size="8.3" textLength="14.96" lengthAdjust="spacingAndGlyphs" style="" fill="#1a1a1a" stroke="#1a1a1a" stroke-width="0.34" >200</text>
<line x1="473.1" y1="146.3" x2="473.1" y2="148.3" stroke="#111" stroke-width="1.1"/>
<text x="465.57" y="157.5" font-size="8.3" textLength="14.96" lengthAdjust="spacingAndGlyphs" style="" fill="#1a1a1a" stroke="#1a1a1a" stroke-width="0.34" >250</text>
<text x="292.66" y="13.6" font-size="16.5" textLength="12.31" lengthAdjust="spacingAndGlyphs" style="font-weight:bold;" fill="#000" stroke="#000" stroke-width="0.34" >B</text>
<text x="388.12" y="25.3" font-size="11.2" textLength="39.4" lengthAdjust="spacingAndGlyphs" style="" fill="#1a1a1a" stroke="#1a1a1a" stroke-width="0.34" >C fibers</text>
<text x="359.3" y="170" font-size="10.6" textLength="113.88" lengthAdjust="spacingAndGlyphs" style="" fill="#1a1a1a" stroke="#1a1a1a" stroke-width="0.34" >Mechanical Force (mN)</text>
<text transform="translate(302.8,144.2) rotate(-90)" x="-0.02" y="0" font-size="10.4" textLength="116.9" lengthAdjust="spacingAndGlyphs" fill="#1a1a1a" stroke="#1a1a1a" stroke-width="0.34">Action potentials/sec over</text>
<text transform="translate(313.8,129.8) rotate(-90)" x="-0.78" y="0" font-size="10.4" textLength="88.63" lengthAdjust="spacingAndGlyphs" fill="#1a1a1a" stroke="#1a1a1a" stroke-width="0.34">10s sustained force</text>
<polyline points="347.17,124.66 349.74,118.73 354.88,113.33 365.16,104.37 396,99.33 421.7,101.71 447.4,93.94 470.53,85.22" fill="none" stroke="#111" stroke-width="1.2"/>
<line x1="347.17" y1="124.66" x2="347.17" y2="119.02" stroke="#111" stroke-width="1.2"/>
<line x1="344.57" y1="119.02" x2="349.77" y2="119.02" stroke="#111" stroke-width="1.2"/>
<line x1="347.17" y1="124.66" x2="347.17" y2="130.29" stroke="#111" stroke-width="1.2"/>
<line x1="344.57" y1="130.29" x2="349.77" y2="130.29" stroke="#111" stroke-width="1.2"/>
<line x1="349.74" y1="118.73" x2="349.74" y2="113.69" stroke="#111" stroke-width="1.2"/>
<line x1="347.14" y1="113.69" x2="352.34" y2="113.69" stroke="#111" stroke-width="1.2"/>
<line x1="349.74" y1="118.73" x2="349.74" y2="123.77" stroke="#111" stroke-width="1.2"/>
<line x1="347.14" y1="123.77" x2="352.34" y2="123.77" stroke="#111" stroke-width="1.2"/>
<line x1="354.88" y1="113.33" x2="354.88" y2="107.76" stroke="#111" stroke-width="1.2"/>
<line x1="352.28" y1="107.76" x2="357.48" y2="107.76" stroke="#111" stroke-width="1.2"/>
<line x1="354.88" y1="113.33" x2="354.88" y2="119.62" stroke="#111" stroke-width="1.2"/>
<line x1="352.28" y1="119.62" x2="357.48" y2="119.62" stroke="#111" stroke-width="1.2"/>
<line x1="365.16" y1="104.37" x2="365.16" y2="97.08" stroke="#111" stroke-width="1.2"/>
<line x1="362.56" y1="97.08" x2="367.76" y2="97.08" stroke="#111" stroke-width="1.2"/>
<line x1="365.16" y1="104.37" x2="365.16" y2="112.5" stroke="#111" stroke-width="1.2"/>
<line x1="362.56" y1="112.5" x2="367.76" y2="112.5" stroke="#111" stroke-width="1.2"/>
<line x1="396" y1="99.33" x2="396" y2="90.56" stroke="#111" stroke-width="1.2"/>
<line x1="393.4" y1="90.56" x2="398.6" y2="90.56" stroke="#111" stroke-width="1.2"/>
<line x1="396" y1="99.33" x2="396" y2="108.35" stroke="#111" stroke-width="1.2"/>
<line x1="393.4" y1="108.35" x2="398.6" y2="108.35" stroke="#111" stroke-width="1.2"/>
<line x1="421.7" y1="101.71" x2="421.7" y2="92.93" stroke="#111" stroke-width="1.2"/>
<line x1="419.1" y1="92.93" x2="424.3" y2="92.93" stroke="#111" stroke-width="1.2"/>
<line x1="421.7" y1="101.71" x2="421.7" y2="110.72" stroke="#111" stroke-width="1.2"/>
<line x1="419.1" y1="110.72" x2="424.3" y2="110.72" stroke="#111" stroke-width="1.2"/>
<line x1="447.4" y1="93.94" x2="447.4" y2="81.66" stroke="#111" stroke-width="1.2"/>
<line x1="444.8" y1="81.66" x2="450" y2="81.66" stroke="#111" stroke-width="1.2"/>
<line x1="447.4" y1="93.94" x2="447.4" y2="105.38" stroke="#111" stroke-width="1.2"/>
<line x1="444.8" y1="105.38" x2="450" y2="105.38" stroke="#111" stroke-width="1.2"/>
<line x1="470.53" y1="85.22" x2="470.53" y2="73.36" stroke="#111" stroke-width="1.2"/>
<line x1="467.93" y1="73.36" x2="473.13" y2="73.36" stroke="#111" stroke-width="1.2"/>
<line x1="470.53" y1="85.22" x2="470.53" y2="97.67" stroke="#111" stroke-width="1.2"/>
<line x1="467.93" y1="97.67" x2="473.13" y2="97.67" stroke="#111" stroke-width="1.2"/>
<rect x="344.27" y="121.76" width="5.8" height="5.8" fill="#111"/>
<rect x="346.84" y="115.83" width="5.8" height="5.8" fill="#111"/>
<rect x="351.98" y="110.43" width="5.8" height="5.8" fill="#111"/>
<rect x="362.26" y="101.47" width="5.8" height="5.8" fill="#111"/>
<rect x="393.1" y="96.43" width="5.8" height="5.8" fill="#111"/>
<rect x="418.8" y="98.81" width="5.8" height="5.8" fill="#111"/>
<rect x="444.5" y="91.04" width="5.8" height="5.8" fill="#111"/>
<rect x="467.63" y="82.32" width="5.8" height="5.8" fill="#111"/>
<polyline points="347.17,109.53 349.74,107.76 354.88,102.42 365.16,95.48 396,75.61 421.7,71.58 447.4,52.31 470.53,58.77" fill="none" stroke="#c82636" stroke-width="1.2"/>
<line x1="347.17" y1="109.53" x2="347.17" y2="98.86" stroke="#c82636" stroke-width="1.2"/>
<line x1="344.57" y1="98.86" x2="349.77" y2="98.86" stroke="#c82636" stroke-width="1.2"/>
<line x1="347.17" y1="109.53" x2="347.17" y2="119.02" stroke="#c82636" stroke-width="1.2"/>
<line x1="344.57" y1="119.02" x2="349.77" y2="119.02" stroke="#c82636" stroke-width="1.2"/>
<line x1="349.74" y1="107.76" x2="349.74" y2="97.67" stroke="#c82636" stroke-width="1.2"/>
<line x1="347.14" y1="97.67" x2="352.34" y2="97.67" stroke="#c82636" stroke-width="1.2"/>
<line x1="349.74" y1="107.76" x2="349.74" y2="117.24" stroke="#c82636" stroke-width="1.2"/>
<line x1="347.14" y1="117.24" x2="352.34" y2="117.24" stroke="#c82636" stroke-width="1.2"/>
<line x1="354.88" y1="102.42" x2="354.88" y2="94.29" stroke="#c82636" stroke-width="1.2"/>
<line x1="352.28" y1="94.29" x2="357.48" y2="94.29" stroke="#c82636" stroke-width="1.2"/>
<line x1="354.88" y1="102.42" x2="354.88" y2="110.72" stroke="#c82636" stroke-width="1.2"/>
<line x1="352.28" y1="110.72" x2="357.48" y2="110.72" stroke="#c82636" stroke-width="1.2"/>
<line x1="365.16" y1="95.48" x2="365.16" y2="84.63" stroke="#c82636" stroke-width="1.2"/>
<line x1="362.56" y1="84.63" x2="367.76" y2="84.63" stroke="#c82636" stroke-width="1.2"/>
<line x1="365.16" y1="95.48" x2="365.16" y2="105.98" stroke="#c82636" stroke-width="1.2"/>
<line x1="362.56" y1="105.98" x2="367.76" y2="105.98" stroke="#c82636" stroke-width="1.2"/>
<line x1="396" y1="75.61" x2="396" y2="64.47" stroke="#c82636" stroke-width="1.2"/>
<line x1="393.4" y1="64.47" x2="398.6" y2="64.47" stroke="#c82636" stroke-width="1.2"/>
<line x1="396" y1="75.61" x2="396" y2="86.17" stroke="#c82636" stroke-width="1.2"/>
<line x1="393.4" y1="86.17" x2="398.6" y2="86.17" stroke="#c82636" stroke-width="1.2"/>
<line x1="421.7" y1="71.58" x2="421.7" y2="61.5" stroke="#c82636" stroke-width="1.2"/>
<line x1="419.1" y1="61.5" x2="424.3" y2="61.5" stroke="#c82636" stroke-width="1.2"/>
<line x1="421.7" y1="71.58" x2="421.7" y2="82.55" stroke="#c82636" stroke-width="1.2"/>
<line x1="419.1" y1="82.55" x2="424.3" y2="82.55" stroke="#c82636" stroke-width="1.2"/>
<line x1="447.4" y1="52.31" x2="447.4" y2="40.75" stroke="#c82636" stroke-width="1.2"/>
<line x1="444.8" y1="40.75" x2="450" y2="40.75" stroke="#c82636" stroke-width="1.2"/>
<line x1="447.4" y1="52.31" x2="447.4" y2="63.87" stroke="#c82636" stroke-width="1.2"/>
<line x1="444.8" y1="63.87" x2="450" y2="63.87" stroke="#c82636" stroke-width="1.2"/>
<line x1="470.53" y1="58.77" x2="470.53" y2="43.12" stroke="#c82636" stroke-width="1.2"/>
<line x1="467.93" y1="43.12" x2="473.13" y2="43.12" stroke="#c82636" stroke-width="1.2"/>
<line x1="470.53" y1="58.77" x2="470.53" y2="73.36" stroke="#c82636" stroke-width="1.2"/>
<line x1="467.93" y1="73.36" x2="473.13" y2="73.36" stroke="#c82636" stroke-width="1.2"/>
<circle cx="347.17" cy="109.53" r="2.9" fill="#fff" stroke="#c82636" stroke-width="1.4"/>
<circle cx="349.74" cy="107.76" r="2.9" fill="#fff" stroke="#c82636" stroke-width="1.4"/>
<circle cx="354.88" cy="102.42" r="2.9" fill="#fff" stroke="#c82636" stroke-width="1.4"/>
<circle cx="365.16" cy="95.48" r="2.9" fill="#fff" stroke="#c82636" stroke-width="1.4"/>
<circle cx="396" cy="75.61" r="2.9" fill="#fff" stroke="#c82636" stroke-width="1.4"/>
<circle cx="421.7" cy="71.58" r="2.9" fill="#fff" stroke="#c82636" stroke-width="1.4"/>
<circle cx="447.4" cy="52.31" r="2.9" fill="#fff" stroke="#c82636" stroke-width="1.4"/>
<circle cx="470.53" cy="58.77" r="2.9" fill="#fff" stroke="#c82636" stroke-width="1.4"/>
<line x1="394.7" y1="122.1" x2="414.2" y2="122.1" stroke="#111" stroke-width="1.2"/>
<rect x="402.05" y="119.7" width="4.8" height="4.8" fill="#111"/>
<line x1="394.7" y1="131.8" x2="414.2" y2="131.8" stroke="#c82636" stroke-width="1.2"/>
<circle cx="404.45" cy="131.8" r="2.7" fill="#fff" stroke="#c82636" stroke-width="1.3"/>
<text x="416.18" y="124.8" font-size="8.6" textLength="50.36" lengthAdjust="spacingAndGlyphs" style="" fill="#1a1a1a" stroke="#1a1a1a" stroke-width="0.34" >HbAA (n=13)</text>
<text x="416.19" y="134.8" font-size="8.6" textLength="50.34" lengthAdjust="spacingAndGlyphs" style="" fill="#1a1a1a" stroke="#1a1a1a" stroke-width="0.34" >HbSS (n=13)</text>
<polyline points="478.4,60.1 481.6,60.1 481.6,84.9 478.4,84.9" fill="none" stroke="#111" stroke-width="1.2"/>
<text x="486.52" y="80.59" font-size="13.5" textLength="20.16" lengthAdjust="spacingAndGlyphs" style="" fill="#1a1a1a" stroke="#1a1a1a" stroke-width="0.45" >***</text>
<line x1="38.5" y1="205.9" x2="38.5" y2="321.55" stroke="#111" stroke-width="1.3"/>
<line x1="37.3" y1="320.9" x2="175.9" y2="320.9" stroke="#111" stroke-width="1.3"/>
<line x1="36.5" y1="320.9" x2="38.5" y2="320.9" stroke="#111" stroke-width="1.1"/>
<text x="30.59" y="323.32" font-size="7.9" textLength="4.75" lengthAdjust="spacingAndGlyphs" style="" fill="#1a1a1a" stroke="#1a1a1a" stroke-width="0.34" >0</text>
<line x1="36.5" y1="309.4" x2="38.5" y2="309.4" stroke="#111" stroke-width="1.1"/>
<text x="30.68" y="311.82" font-size="7.9" textLength="4.75" lengthAdjust="spacingAndGlyphs" style="" fill="#1a1a1a" stroke="#1a1a1a" stroke-width="0.34" >2</text>
<line x1="36.5" y1="297.9" x2="38.5" y2="297.9" stroke="#111" stroke-width="1.1"/>
<text x="30.5" y="300.32" font-size="7.9" textLength="4.75" lengthAdjust="spacingAndGlyphs" style="" fill="#1a1a1a" stroke="#1a1a1a" stroke-width="0.34" >4</text>
<line x1="36.5" y1="286.4" x2="38.5" y2="286.4" stroke="#111" stroke-width="1.1"/>
<text x="30.63" y="288.82" font-size="7.9" textLength="4.75" lengthAdjust="spacingAndGlyphs" style="" fill="#1a1a1a" stroke="#1a1a1a" stroke-width="0.34" >6</text>
<line x1="36.5" y1="274.9" x2="38.5" y2="274.9" stroke="#111" stroke-width="1.1"/>
<text x="30.62" y="277.32" font-size="7.9" textLength="4.75" lengthAdjust="spacingAndGlyphs" style="" fill="#1a1a1a" stroke="#1a1a1a" stroke-width="0.34" >8</text>
<line x1="36.5" y1="263.4" x2="38.5" y2="263.4" stroke="#111" stroke-width="1.1"/>
<text x="25.85" y="265.82" font-size="7.9" textLength="9.49" lengthAdjust="spacingAndGlyphs" style="" fill="#1a1a1a" stroke="#1a1a1a" stroke-width="0.34" >10</text>
<line x1="36.5" y1="251.9" x2="38.5" y2="251.9" stroke="#111" stroke-width="1.1"/>
<text x="25.94" y="254.32" font-size="7.9" textLength="9.49" lengthAdjust="spacingAndGlyphs" style="" fill="#1a1a1a" stroke="#1a1a1a" stroke-width="0.34" >12</text>
<line x1="36.5" y1="240.4" x2="38.5" y2="240.4" stroke="#111" stroke-width="1.1"/>
<text x="25.76" y="242.82" font-size="7.9" textLength="9.49" lengthAdjust="spacingAndGlyphs" style="" fill="#1a1a1a" stroke="#1a1a1a" stroke-width="0.34" >14</text>
<line x1="36.5" y1="228.9" x2="38.5" y2="228.9" stroke="#111" stroke-width="1.1"/>
<text x="25.89" y="231.32" font-size="7.9" textLength="9.49" lengthAdjust="spacingAndGlyphs" style="" fill="#1a1a1a" stroke="#1a1a1a" stroke-width="0.34" >16</text>
<line x1="36.5" y1="217.4" x2="38.5" y2="217.4" stroke="#111" stroke-width="1.1"/>
<text x="25.88" y="219.82" font-size="7.9" textLength="9.49" lengthAdjust="spacingAndGlyphs" style="" fill="#1a1a1a" stroke="#1a1a1a" stroke-width="0.34" >18</text>
<line x1="36.5" y1="205.9" x2="38.5" y2="205.9" stroke="#111" stroke-width="1.1"/>
<text x="25.85" y="208.32" font-size="7.9" textLength="9.49" lengthAdjust="spacingAndGlyphs" style="" fill="#1a1a1a" stroke="#1a1a1a" stroke-width="0.34" >20</text>
<line x1="52.5" y1="320.9" x2="52.5" y2="322.9" stroke="#111" stroke-width="1.1"/>
<text x="50.13" y="330.7" font-size="7.9" textLength="4.75" lengthAdjust="spacingAndGlyphs" style="" fill="#1a1a1a" stroke="#1a1a1a" stroke-width="0.34" >0</text>
<line x1="81.1" y1="320.9" x2="81.1" y2="322.9" stroke="#111" stroke-width="1.1"/>
<text x="76.35" y="330.7" font-size="7.9" textLength="9.49" lengthAdjust="spacingAndGlyphs" style="" fill="#1a1a1a" stroke="#1a1a1a" stroke-width="0.34" >50</text>
<line x1="109.7" y1="320.9" x2="109.7" y2="322.9" stroke="#111" stroke-width="1.1"/>
<text x="102.43" y="330.7" font-size="7.9" textLength="14.24" lengthAdjust="spacingAndGlyphs" style="" fill="#1a1a1a" stroke="#1a1a1a" stroke-width="0.34" >100</text>
<line x1="138.3" y1="320.9" x2="138.3" y2="322.9" stroke="#111" stroke-width="1.1"/>
<text x="131.03" y="330.7" font-size="7.9" textLength="14.24" lengthAdjust="spacingAndGlyphs" style="" fill="#1a1a1a" stroke="#1a1a1a" stroke-width="0.34" >150</text>
<line x1="166.9" y1="320.9" x2="166.9" y2="322.9" stroke="#111" stroke-width="1.1"/>
<text x="159.74" y="330.7" font-size="7.9" textLength="14.24" lengthAdjust="spacingAndGlyphs" style="" fill="#1a1a1a" stroke="#1a1a1a" stroke-width="0.34" >200</text>
<text x="8.3" y="197.2" font-size="16.5" textLength="12.37" lengthAdjust="spacingAndGlyphs" style="font-weight:bold;" fill="#000" stroke="#000" stroke-width="0.34" >C</text>
<text x="79.48" y="196.4" font-size="10.9" textLength="70.83" lengthAdjust="spacingAndGlyphs" style="" fill="#1a1a1a" stroke="#1a1a1a" stroke-width="0.34" >AM fibers (All)</text>
<text x="67.51" y="344.1" font-size="9.5" textLength="99.58" lengthAdjust="spacingAndGlyphs" style="" fill="#1a1a1a" stroke="#1a1a1a" stroke-width="0.34" >Mechanical Force (mN)</text>
<text transform="translate(11,321) rotate(-90)" x="-0.02" y="0" font-size="9.5" textLength="108.08" lengthAdjust="spacingAndGlyphs" fill="#1a1a1a" stroke="#1a1a1a" stroke-width="0.34">Action potentials/sec over</text>
<text transform="translate(20.7,307.4) rotate(-90)" x="-0.72" y="0" font-size="9.5" textLength="82.54" lengthAdjust="spacingAndGlyphs" fill="#1a1a1a" stroke="#1a1a1a" stroke-width="0.34">10s sustained force</text>
<polyline points="55.36,301 58.22,286 63.94,268.8 75.38,250.17 109.7,253.05 138.3,247.59 166.9,243.27" fill="none" stroke="#111" stroke-width="1.2"/>
<line x1="55.36" y1="301" x2="55.36" y2="296.17" stroke="#111" stroke-width="1.2"/>
<line x1="52.76" y1="296.17" x2="57.96" y2="296.17" stroke="#111" stroke-width="1.2"/>
<line x1="55.36" y1="301" x2="55.36" y2="305.95" stroke="#111" stroke-width="1.2"/>
<line x1="52.76" y1="305.95" x2="57.96" y2="305.95" stroke="#111" stroke-width="1.2"/>
<line x1="58.22" y1="286" x2="58.22" y2="279.5" stroke="#111" stroke-width="1.2"/>
<line x1="55.62" y1="279.5" x2="60.82" y2="279.5" stroke="#111" stroke-width="1.2"/>
<line x1="58.22" y1="286" x2="58.22" y2="293.88" stroke="#111" stroke-width="1.2"/>
<line x1="55.62" y1="293.88" x2="60.82" y2="293.88" stroke="#111" stroke-width="1.2"/>
<line x1="63.94" y1="268.8" x2="63.94" y2="263.4" stroke="#111" stroke-width="1.2"/>
<line x1="61.34" y1="263.4" x2="66.54" y2="263.4" stroke="#111" stroke-width="1.2"/>
<line x1="63.94" y1="268.8" x2="63.94" y2="274.32" stroke="#111" stroke-width="1.2"/>
<line x1="61.34" y1="274.32" x2="66.54" y2="274.32" stroke="#111" stroke-width="1.2"/>
<line x1="75.38" y1="250.17" x2="75.38" y2="245" stroke="#111" stroke-width="1.2"/>
<line x1="72.78" y1="245" x2="77.98" y2="245" stroke="#111" stroke-width="1.2"/>
<line x1="75.38" y1="250.17" x2="75.38" y2="256.5" stroke="#111" stroke-width="1.2"/>
<line x1="72.78" y1="256.5" x2="77.98" y2="256.5" stroke="#111" stroke-width="1.2"/>
<line x1="109.7" y1="253.05" x2="109.7" y2="244.42" stroke="#111" stroke-width="1.2"/>
<line x1="107.1" y1="244.42" x2="112.3" y2="244.42" stroke="#111" stroke-width="1.2"/>
<line x1="109.7" y1="253.05" x2="109.7" y2="261.96" stroke="#111" stroke-width="1.2"/>
<line x1="107.1" y1="261.96" x2="112.3" y2="261.96" stroke="#111" stroke-width="1.2"/>
<line x1="138.3" y1="247.59" x2="138.3" y2="236.95" stroke="#111" stroke-width="1.2"/>
<line x1="135.7" y1="236.95" x2="140.9" y2="236.95" stroke="#111" stroke-width="1.2"/>
<line x1="138.3" y1="247.59" x2="138.3" y2="259.38" stroke="#111" stroke-width="1.2"/>
<line x1="135.7" y1="259.38" x2="140.9" y2="259.38" stroke="#111" stroke-width="1.2"/>
<line x1="166.9" y1="243.27" x2="166.9" y2="230.05" stroke="#111" stroke-width="1.2"/>
<line x1="164.3" y1="230.05" x2="169.5" y2="230.05" stroke="#111" stroke-width="1.2"/>
<line x1="166.9" y1="243.27" x2="166.9" y2="255.92" stroke="#111" stroke-width="1.2"/>
<line x1="164.3" y1="255.92" x2="169.5" y2="255.92" stroke="#111" stroke-width="1.2"/>
<rect x="52.46" y="298.11" width="5.8" height="5.8" fill="#111"/>
<rect x="55.32" y="283.1" width="5.8" height="5.8" fill="#111"/>
<rect x="61.04" y="265.9" width="5.8" height="5.8" fill="#111"/>
<rect x="72.48" y="247.27" width="5.8" height="5.8" fill="#111"/>
<rect x="106.8" y="250.15" width="5.8" height="5.8" fill="#111"/>
<rect x="135.4" y="244.69" width="5.8" height="5.8" fill="#111"/>
<rect x="164" y="240.37" width="5.8" height="5.8" fill="#111"/>
<polyline points="55.36,287.78 58.22,280.88 63.94,260.81 75.38,243.27 109.7,242.41 138.3,246.72 166.9,223.32" fill="none" stroke="#c82636" stroke-width="1.2"/>
<line x1="55.36" y1="287.78" x2="55.36" y2="281.8" stroke="#c82636" stroke-width="1.2"/>
<line x1="52.76" y1="281.8" x2="57.96" y2="281.8" stroke="#c82636" stroke-width="1.2"/>
<line x1="55.36" y1="287.78" x2="55.36" y2="292.72" stroke="#c82636" stroke-width="1.2"/>
<line x1="52.76" y1="292.72" x2="57.96" y2="292.72" stroke="#c82636" stroke-width="1.2"/>
<line x1="58.22" y1="280.88" x2="58.22" y2="273.17" stroke="#c82636" stroke-width="1.2"/>
<line x1="55.62" y1="273.17" x2="60.82" y2="273.17" stroke="#c82636" stroke-width="1.2"/>
<line x1="58.22" y1="280.88" x2="58.22" y2="287.55" stroke="#c82636" stroke-width="1.2"/>
<line x1="55.62" y1="287.55" x2="60.82" y2="287.55" stroke="#c82636" stroke-width="1.2"/>
<line x1="63.94" y1="260.81" x2="63.94" y2="248.74" stroke="#c82636" stroke-width="1.2"/>
<line x1="61.34" y1="248.74" x2="66.54" y2="248.74" stroke="#c82636" stroke-width="1.2"/>
<line x1="63.94" y1="260.81" x2="63.94" y2="271.45" stroke="#c82636" stroke-width="1.2"/>
<line x1="61.34" y1="271.45" x2="66.54" y2="271.45" stroke="#c82636" stroke-width="1.2"/>
<line x1="75.38" y1="243.27" x2="75.38" y2="232.92" stroke="#c82636" stroke-width="1.2"/>
<line x1="72.78" y1="232.92" x2="77.98" y2="232.92" stroke="#c82636" stroke-width="1.2"/>
<line x1="75.38" y1="243.27" x2="75.38" y2="251.9" stroke="#c82636" stroke-width="1.2"/>
<line x1="72.78" y1="251.9" x2="77.98" y2="251.9" stroke="#c82636" stroke-width="1.2"/>
<line x1="109.7" y1="242.41" x2="109.7" y2="233.5" stroke="#c82636" stroke-width="1.2"/>
<line x1="107.1" y1="233.5" x2="112.3" y2="233.5" stroke="#c82636" stroke-width="1.2"/>
<line x1="109.7" y1="242.41" x2="109.7" y2="251.32" stroke="#c82636" stroke-width="1.2"/>
<line x1="107.1" y1="251.32" x2="112.3" y2="251.32" stroke="#c82636" stroke-width="1.2"/>
<line x1="138.3" y1="246.72" x2="138.3" y2="239.25" stroke="#c82636" stroke-width="1.2"/>
<line x1="135.7" y1="239.25" x2="140.9" y2="239.25" stroke="#c82636" stroke-width="1.2"/>
<line x1="138.3" y1="246.72" x2="138.3" y2="254.2" stroke="#c82636" stroke-width="1.2"/>
<line x1="135.7" y1="254.2" x2="140.9" y2="254.2" stroke="#c82636" stroke-width="1.2"/>
<line x1="166.9" y1="223.32" x2="166.9" y2="212.8" stroke="#c82636" stroke-width="1.2"/>
<line x1="164.3" y1="212.8" x2="169.5" y2="212.8" stroke="#c82636" stroke-width="1.2"/>
<line x1="166.9" y1="223.32" x2="166.9" y2="234.07" stroke="#c82636" stroke-width="1.2"/>
<line x1="164.3" y1="234.07" x2="169.5" y2="234.07" stroke="#c82636" stroke-width="1.2"/>
<circle cx="55.36" cy="287.78" r="2.9" fill="#fff" stroke="#c82636" stroke-width="1.4"/>
<circle cx="58.22" cy="280.88" r="2.9" fill="#fff" stroke="#c82636" stroke-width="1.4"/>
<circle cx="63.94" cy="260.81" r="2.9" fill="#fff" stroke="#c82636" stroke-width="1.4"/>
<circle cx="75.38" cy="243.27" r="2.9" fill="#fff" stroke="#c82636" stroke-width="1.4"/>
<circle cx="109.7" cy="242.41" r="2.9" fill="#fff" stroke="#c82636" stroke-width="1.4"/>
<circle cx="138.3" cy="246.72" r="2.9" fill="#fff" stroke="#c82636" stroke-width="1.4"/>
<circle cx="166.9" cy="223.32" r="2.9" fill="#fff" stroke="#c82636" stroke-width="1.4"/>
<line x1="93.4" y1="283.5" x2="111.5" y2="283.5" stroke="#111" stroke-width="1.2"/>
<rect x="100.05" y="281.1" width="4.8" height="4.8" fill="#111"/>
<line x1="93.4" y1="293.1" x2="111.5" y2="293.1" stroke="#c82636" stroke-width="1.2"/>
<circle cx="102.45" cy="293.1" r="2.7" fill="#fff" stroke="#c82636" stroke-width="1.3"/>
<text x="113.86" y="286.2" font-size="8.6" textLength="52.11" lengthAdjust="spacingAndGlyphs" style="" fill="#1a1a1a" stroke="#1a1a1a" stroke-width="0.34" >HbAA (n=18)</text>
<text x="113.86" y="295.8" font-size="8.6" textLength="52.09" lengthAdjust="spacingAndGlyphs" style="" fill="#1a1a1a" stroke="#1a1a1a" stroke-width="0.34" >HbSS (n=17)</text>
<line x1="202.7" y1="205.6" x2="202.7" y2="321.25" stroke="#111" stroke-width="1.3"/>
<line x1="201.5" y1="320.6" x2="337.9" y2="320.6" stroke="#111" stroke-width="1.3"/>
<line x1="200.7" y1="320.6" x2="202.7" y2="320.6" stroke="#111" stroke-width="1.1"/>
<text x="193.69" y="323.02" font-size="7.9" textLength="4.75" lengthAdjust="spacingAndGlyphs" style="" fill="#1a1a1a" stroke="#1a1a1a" stroke-width="0.34" >0</text>
<line x1="200.7" y1="309.1" x2="202.7" y2="309.1" stroke="#111" stroke-width="1.1"/>
<text x="193.78" y="311.52" font-size="7.9" textLength="4.75" lengthAdjust="spacingAndGlyphs" style="" fill="#1a1a1a" stroke="#1a1a1a" stroke-width="0.34" >2</text>
<line x1="200.7" y1="297.6" x2="202.7" y2="297.6" stroke="#111" stroke-width="1.1"/>
<text x="193.6" y="300.02" font-size="7.9" textLength="4.75" lengthAdjust="spacingAndGlyphs" style="" fill="#1a1a1a" stroke="#1a1a1a" stroke-width="0.34" >4</text>
<line x1="200.7" y1="286.1" x2="202.7" y2="286.1" stroke="#111" stroke-width="1.1"/>
<text x="193.73" y="288.52" font-size="7.9" textLength="4.75" lengthAdjust="spacingAndGlyphs" style="" fill="#1a1a1a" stroke="#1a1a1a" stroke-width="0.34" >6</text>
<line x1="200.7" y1="274.6" x2="202.7" y2="274.6" stroke="#111" stroke-width="1.1"/>
<text x="193.72" y="277.02" font-size="7.9" textLength="4.75" lengthAdjust="spacingAndGlyphs" style="" fill="#1a1a1a" stroke="#1a1a1a" stroke-width="0.34" >8</text>
<line x1="200.7" y1="263.1" x2="202.7" y2="263.1" stroke="#111" stroke-width="1.1"/>
<text x="188.95" y="265.52" font-size="7.9" textLength="9.49" lengthAdjust="spacingAndGlyphs" style="" fill="#1a1a1a" stroke="#1a1a1a" stroke-width="0.34" >10</text>
<line x1="200.7" y1="251.6" x2="202.7" y2="251.6" stroke="#111" stroke-width="1.1"/>
<text x="189.04" y="254.02" font-size="7.9" textLength="9.49" lengthAdjust="spacingAndGlyphs" style="" fill="#1a1a1a" stroke="#1a1a1a" stroke-width="0.34" >12</text>
<line x1="200.7" y1="240.1" x2="202.7" y2="240.1" stroke="#111" stroke-width="1.1"/>
<text x="188.86" y="242.52" font-size="7.9" textLength="9.49" lengthAdjust="spacingAndGlyphs" style="" fill="#1a1a1a" stroke="#1a1a1a" stroke-width="0.34" >14</text>
<line x1="200.7" y1="228.6" x2="202.7" y2="228.6" stroke="#111" stroke-width="1.1"/>
<text x="188.99" y="231.02" font-size="7.9" textLength="9.49" lengthAdjust="spacingAndGlyphs" style="" fill="#1a1a1a" stroke="#1a1a1a" stroke-width="0.34" >16</text>
<line x1="200.7" y1="217.1" x2="202.7" y2="217.1" stroke="#111" stroke-width="1.1"/>
<text x="188.98" y="219.52" font-size="7.9" textLength="9.49" lengthAdjust="spacingAndGlyphs" style="" fill="#1a1a1a" stroke="#1a1a1a" stroke-width="0.34" >18</text>
<line x1="200.7" y1="205.6" x2="202.7" y2="205.6" stroke="#111" stroke-width="1.1"/>
<text x="188.95" y="208.02" font-size="7.9" textLength="9.49" lengthAdjust="spacingAndGlyphs" style="" fill="#1a1a1a" stroke="#1a1a1a" stroke-width="0.34" >20</text>
<line x1="216.6" y1="320.6" x2="216.6" y2="322.6" stroke="#111" stroke-width="1.1"/>
<text x="214.23" y="330.9" font-size="7.9" textLength="4.75" lengthAdjust="spacingAndGlyphs" style="" fill="#1a1a1a" stroke="#1a1a1a" stroke-width="0.34" >0</text>
<line x1="244.8" y1="320.6" x2="244.8" y2="322.6" stroke="#111" stroke-width="1.1"/>
<text x="240.05" y="330.9" font-size="7.9" textLength="9.49" lengthAdjust="spacingAndGlyphs" style="" fill="#1a1a1a" stroke="#1a1a1a" stroke-width="0.34" >50</text>
<line x1="273" y1="320.6" x2="273" y2="322.6" stroke="#111" stroke-width="1.1"/>
<text x="265.73" y="330.9" font-size="7.9" textLength="14.24" lengthAdjust="spacingAndGlyphs" style="" fill="#1a1a1a" stroke="#1a1a1a" stroke-width="0.34" >100</text>
<line x1="301.2" y1="320.6" x2="301.2" y2="322.6" stroke="#111" stroke-width="1.1"/>
<text x="293.93" y="330.9" font-size="7.9" textLength="14.24" lengthAdjust="spacingAndGlyphs" style="" fill="#1a1a1a" stroke="#1a1a1a" stroke-width="0.34" >150</text>
<line x1="329.4" y1="320.6" x2="329.4" y2="322.6" stroke="#111" stroke-width="1.1"/>
<text x="322.24" y="330.9" font-size="7.9" textLength="14.24" lengthAdjust="spacingAndGlyphs" style="" fill="#1a1a1a" stroke="#1a1a1a" stroke-width="0.34" >200</text>
<text x="185.6" y="197.1" font-size="16.5" textLength="11.9" lengthAdjust="spacingAndGlyphs" style="font-weight:bold;" fill="#000" stroke="#000" stroke-width="0.34" >D</text>
<text x="214.48" y="196.7" font-size="11" textLength="123.43" lengthAdjust="spacingAndGlyphs" style="" fill="#1a1a1a" stroke="#1a1a1a" stroke-width="0.34" >High-threshold AM fibers</text>
<text x="247.94" y="211.1" font-size="11" textLength="58.61" lengthAdjust="spacingAndGlyphs" style="" fill="#1a1a1a" stroke="#1a1a1a" stroke-width="0.34" >≥ 4 mN vFT</text>
<text x="231.8" y="343.8" font-size="9.5" textLength="100.9" lengthAdjust="spacingAndGlyphs" style="" fill="#1a1a1a" stroke="#1a1a1a" stroke-width="0.34" >Mechanical Force (mN)</text>
<polyline points="219.42,312.26 222.24,299.9 227.88,288.4 239.16,265.98 273,270 301.2,264.83 329.4,265.98" fill="none" stroke="#111" stroke-width="1.2"/>
<line x1="219.42" y1="312.26" x2="219.42" y2="307.95" stroke="#111" stroke-width="1.2"/>
<line x1="216.82" y1="307.95" x2="222.02" y2="307.95" stroke="#111" stroke-width="1.2"/>
<line x1="219.42" y1="312.26" x2="219.42" y2="316" stroke="#111" stroke-width="1.2"/>
<line x1="216.82" y1="316" x2="222.02" y2="316" stroke="#111" stroke-width="1.2"/>
<line x1="222.24" y1="299.9" x2="222.24" y2="294.15" stroke="#111" stroke-width="1.2"/>
<line x1="219.64" y1="294.15" x2="224.84" y2="294.15" stroke="#111" stroke-width="1.2"/>
<line x1="222.24" y1="299.9" x2="222.24" y2="304.5" stroke="#111" stroke-width="1.2"/>
<line x1="219.64" y1="304.5" x2="224.84" y2="304.5" stroke="#111" stroke-width="1.2"/>
<line x1="227.88" y1="288.4" x2="227.88" y2="282.65" stroke="#111" stroke-width="1.2"/>
<line x1="225.28" y1="282.65" x2="230.48" y2="282.65" stroke="#111" stroke-width="1.2"/>
<line x1="227.88" y1="288.4" x2="227.88" y2="294.15" stroke="#111" stroke-width="1.2"/>
<line x1="225.28" y1="294.15" x2="230.48" y2="294.15" stroke="#111" stroke-width="1.2"/>
<line x1="239.16" y1="265.98" x2="239.16" y2="261.38" stroke="#111" stroke-width="1.2"/>
<line x1="236.56" y1="261.38" x2="241.76" y2="261.38" stroke="#111" stroke-width="1.2"/>
<line x1="239.16" y1="265.98" x2="239.16" y2="271.73" stroke="#111" stroke-width="1.2"/>
<line x1="236.56" y1="271.73" x2="241.76" y2="271.73" stroke="#111" stroke-width="1.2"/>
<line x1="273" y1="270" x2="273" y2="259.08" stroke="#111" stroke-width="1.2"/>
<line x1="270.4" y1="259.08" x2="275.6" y2="259.08" stroke="#111" stroke-width="1.2"/>
<line x1="273" y1="270" x2="273" y2="281.5" stroke="#111" stroke-width="1.2"/>
<line x1="270.4" y1="281.5" x2="275.6" y2="281.5" stroke="#111" stroke-width="1.2"/>
<line x1="301.2" y1="264.83" x2="301.2" y2="248.73" stroke="#111" stroke-width="1.2"/>
<line x1="298.6" y1="248.73" x2="303.8" y2="248.73" stroke="#111" stroke-width="1.2"/>
<line x1="301.2" y1="264.83" x2="301.2" y2="282.08" stroke="#111" stroke-width="1.2"/>
<line x1="298.6" y1="282.08" x2="303.8" y2="282.08" stroke="#111" stroke-width="1.2"/>
<line x1="329.4" y1="265.98" x2="329.4" y2="247.58" stroke="#111" stroke-width="1.2"/>
<line x1="326.8" y1="247.58" x2="332" y2="247.58" stroke="#111" stroke-width="1.2"/>
<line x1="329.4" y1="265.98" x2="329.4" y2="284.95" stroke="#111" stroke-width="1.2"/>
<line x1="326.8" y1="284.95" x2="332" y2="284.95" stroke="#111" stroke-width="1.2"/>
<rect x="216.52" y="309.36" width="5.8" height="5.8" fill="#111"/>
<rect x="219.34" y="297" width="5.8" height="5.8" fill="#111"/>
<rect x="224.98" y="285.5" width="5.8" height="5.8" fill="#111"/>
<rect x="236.26" y="263.08" width="5.8" height="5.8" fill="#111"/>
<rect x="270.1" y="267.1" width="5.8" height="5.8" fill="#111"/>
<rect x="298.3" y="261.93" width="5.8" height="5.8" fill="#111"/>
<rect x="326.5" y="263.08" width="5.8" height="5.8" fill="#111"/>
<polyline points="219.42,298.75 222.24,289.55 227.88,273.45 239.16,249.01 273,236.31 301.2,241.83 329.4,225.15" fill="none" stroke="#c82636" stroke-width="1.2"/>
<line x1="219.42" y1="298.75" x2="219.42" y2="291.85" stroke="#c82636" stroke-width="1.2"/>
<line x1="216.82" y1="291.85" x2="222.02" y2="291.85" stroke="#c82636" stroke-width="1.2"/>
<line x1="219.42" y1="298.75" x2="219.42" y2="305.65" stroke="#c82636" stroke-width="1.2"/>
<line x1="216.82" y1="305.65" x2="222.02" y2="305.65" stroke="#c82636" stroke-width="1.2"/>
<line x1="222.24" y1="289.55" x2="222.24" y2="278.05" stroke="#c82636" stroke-width="1.2"/>
<line x1="219.64" y1="278.05" x2="224.84" y2="278.05" stroke="#c82636" stroke-width="1.2"/>
<line x1="222.24" y1="289.55" x2="222.24" y2="299.9" stroke="#c82636" stroke-width="1.2"/>
<line x1="219.64" y1="299.9" x2="224.84" y2="299.9" stroke="#c82636" stroke-width="1.2"/>
<line x1="227.88" y1="273.45" x2="227.88" y2="259.08" stroke="#c82636" stroke-width="1.2"/>
<line x1="225.28" y1="259.08" x2="230.48" y2="259.08" stroke="#c82636" stroke-width="1.2"/>
<line x1="227.88" y1="273.45" x2="227.88" y2="286.1" stroke="#c82636" stroke-width="1.2"/>
<line x1="225.28" y1="286.1" x2="230.48" y2="286.1" stroke="#c82636" stroke-width="1.2"/>
<line x1="239.16" y1="249.01" x2="239.16" y2="233.78" stroke="#c82636" stroke-width="1.2"/>
<line x1="236.56" y1="233.78" x2="241.76" y2="233.78" stroke="#c82636" stroke-width="1.2"/>
<line x1="239.16" y1="249.01" x2="239.16" y2="259.88" stroke="#c82636" stroke-width="1.2"/>
<line x1="236.56" y1="259.88" x2="241.76" y2="259.88" stroke="#c82636" stroke-width="1.2"/>
<line x1="273" y1="236.31" x2="273" y2="226.3" stroke="#c82636" stroke-width="1.2"/>
<line x1="270.4" y1="226.3" x2="275.6" y2="226.3" stroke="#c82636" stroke-width="1.2"/>
<line x1="273" y1="236.31" x2="273" y2="246.43" stroke="#c82636" stroke-width="1.2"/>
<line x1="270.4" y1="246.43" x2="275.6" y2="246.43" stroke="#c82636" stroke-width="1.2"/>
<line x1="301.2" y1="241.83" x2="301.2" y2="236.65" stroke="#c82636" stroke-width="1.2"/>
<line x1="298.6" y1="236.65" x2="303.8" y2="236.65" stroke="#c82636" stroke-width="1.2"/>
<line x1="301.2" y1="241.83" x2="301.2" y2="247" stroke="#c82636" stroke-width="1.2"/>
<line x1="298.6" y1="247" x2="303.8" y2="247" stroke="#c82636" stroke-width="1.2"/>
<line x1="329.4" y1="225.15" x2="329.4" y2="214.23" stroke="#c82636" stroke-width="1.2"/>
<line x1="326.8" y1="214.23" x2="332" y2="214.23" stroke="#c82636" stroke-width="1.2"/>
<line x1="329.4" y1="225.15" x2="329.4" y2="236.08" stroke="#c82636" stroke-width="1.2"/>
<line x1="326.8" y1="236.08" x2="332" y2="236.08" stroke="#c82636" stroke-width="1.2"/>
<circle cx="219.42" cy="298.75" r="2.9" fill="#fff" stroke="#c82636" stroke-width="1.4"/>
<circle cx="222.24" cy="289.55" r="2.9" fill="#fff" stroke="#c82636" stroke-width="1.4"/>
<circle cx="227.88" cy="273.45" r="2.9" fill="#fff" stroke="#c82636" stroke-width="1.4"/>
<circle cx="239.16" cy="249.01" r="2.9" fill="#fff" stroke="#c82636" stroke-width="1.4"/>
<circle cx="273" cy="236.31" r="2.9" fill="#fff" stroke="#c82636" stroke-width="1.4"/>
<circle cx="301.2" cy="241.83" r="2.9" fill="#fff" stroke="#c82636" stroke-width="1.4"/>
<circle cx="329.4" cy="225.15" r="2.9" fill="#fff" stroke="#c82636" stroke-width="1.4"/>
<line x1="270" y1="293.1" x2="287.7" y2="293.1" stroke="#111" stroke-width="1.2"/>
<rect x="276.45" y="290.7" width="4.8" height="4.8" fill="#111"/>
<line x1="270" y1="303.1" x2="287.7" y2="303.1" stroke="#c82636" stroke-width="1.2"/>
<circle cx="278.85" cy="303.1" r="2.7" fill="#fff" stroke="#c82636" stroke-width="1.3"/>
<text x="288.81" y="295.8" font-size="8.6" textLength="43.71" lengthAdjust="spacingAndGlyphs" style="" fill="#1a1a1a" stroke="#1a1a1a" stroke-width="0.34" >HbAA (n=8)</text>
<text x="288.82" y="305.8" font-size="8.6" textLength="43.7" lengthAdjust="spacingAndGlyphs" style="" fill="#1a1a1a" stroke="#1a1a1a" stroke-width="0.34" >HbSS (n=9)</text>
<polyline points="337.8,227.1 341.2,227.1 341.2,265.3 337.8,265.3" fill="none" stroke="#111" stroke-width="1.2"/>
<text x="344.95" y="254.09" font-size="13.5" textLength="12" lengthAdjust="spacingAndGlyphs" style="" fill="#1a1a1a" stroke="#1a1a1a" stroke-width="0.45" >**</text>
<line x1="373.8" y1="205.6" x2="373.8" y2="321.55" stroke="#111" stroke-width="1.3"/>
<line x1="372.5" y1="320.9" x2="513.4" y2="320.9" stroke="#111" stroke-width="1.3"/>
<line x1="371.8" y1="320.9" x2="373.8" y2="320.9" stroke="#111" stroke-width="1.1"/>
<text x="363.79" y="323.32" font-size="7.9" textLength="4.75" lengthAdjust="spacingAndGlyphs" style="" fill="#1a1a1a" stroke="#1a1a1a" stroke-width="0.34" >0</text>
<line x1="371.8" y1="309.36" x2="373.8" y2="309.36" stroke="#111" stroke-width="1.1"/>
<text x="363.88" y="311.78" font-size="7.9" textLength="4.75" lengthAdjust="spacingAndGlyphs" style="" fill="#1a1a1a" stroke="#1a1a1a" stroke-width="0.34" >2</text>
<line x1="371.8" y1="297.82" x2="373.8" y2="297.82" stroke="#111" stroke-width="1.1"/>
<text x="363.7" y="300.24" font-size="7.9" textLength="4.75" lengthAdjust="spacingAndGlyphs" style="" fill="#1a1a1a" stroke="#1a1a1a" stroke-width="0.34" >4</text>
<line x1="371.8" y1="286.28" x2="373.8" y2="286.28" stroke="#111" stroke-width="1.1"/>
<text x="363.83" y="288.7" font-size="7.9" textLength="4.75" lengthAdjust="spacingAndGlyphs" style="" fill="#1a1a1a" stroke="#1a1a1a" stroke-width="0.34" >6</text>
<line x1="371.8" y1="274.74" x2="373.8" y2="274.74" stroke="#111" stroke-width="1.1"/>
<text x="363.82" y="277.16" font-size="7.9" textLength="4.75" lengthAdjust="spacingAndGlyphs" style="" fill="#1a1a1a" stroke="#1a1a1a" stroke-width="0.34" >8</text>
<line x1="371.8" y1="263.2" x2="373.8" y2="263.2" stroke="#111" stroke-width="1.1"/>
<text x="359.05" y="265.62" font-size="7.9" textLength="9.49" lengthAdjust="spacingAndGlyphs" style="" fill="#1a1a1a" stroke="#1a1a1a" stroke-width="0.34" >10</text>
<line x1="371.8" y1="251.66" x2="373.8" y2="251.66" stroke="#111" stroke-width="1.1"/>
<text x="359.14" y="254.08" font-size="7.9" textLength="9.49" lengthAdjust="spacingAndGlyphs" style="" fill="#1a1a1a" stroke="#1a1a1a" stroke-width="0.34" >12</text>
<line x1="371.8" y1="240.12" x2="373.8" y2="240.12" stroke="#111" stroke-width="1.1"/>
<text x="358.96" y="242.54" font-size="7.9" textLength="9.49" lengthAdjust="spacingAndGlyphs" style="" fill="#1a1a1a" stroke="#1a1a1a" stroke-width="0.34" >14</text>
<line x1="371.8" y1="228.58" x2="373.8" y2="228.58" stroke="#111" stroke-width="1.1"/>
<text x="359.09" y="231" font-size="7.9" textLength="9.49" lengthAdjust="spacingAndGlyphs" style="" fill="#1a1a1a" stroke="#1a1a1a" stroke-width="0.34" >16</text>
<line x1="371.8" y1="217.04" x2="373.8" y2="217.04" stroke="#111" stroke-width="1.1"/>
<text x="359.08" y="219.46" font-size="7.9" textLength="9.49" lengthAdjust="spacingAndGlyphs" style="" fill="#1a1a1a" stroke="#1a1a1a" stroke-width="0.34" >18</text>
<line x1="371.8" y1="205.5" x2="373.8" y2="205.5" stroke="#111" stroke-width="1.1"/>
<text x="359.05" y="207.92" font-size="7.9" textLength="9.49" lengthAdjust="spacingAndGlyphs" style="" fill="#1a1a1a" stroke="#1a1a1a" stroke-width="0.34" >20</text>
<line x1="387.8" y1="320.9" x2="387.8" y2="322.9" stroke="#111" stroke-width="1.1"/>
<text x="385.43" y="331.5" font-size="7.9" textLength="4.75" lengthAdjust="spacingAndGlyphs" style="" fill="#1a1a1a" stroke="#1a1a1a" stroke-width="0.34" >0</text>
<line x1="417" y1="320.9" x2="417" y2="322.9" stroke="#111" stroke-width="1.1"/>
<text x="412.25" y="331.5" font-size="7.9" textLength="9.49" lengthAdjust="spacingAndGlyphs" style="" fill="#1a1a1a" stroke="#1a1a1a" stroke-width="0.34" >50</text>
<line x1="446.2" y1="320.9" x2="446.2" y2="322.9" stroke="#111" stroke-width="1.1"/>
<text x="438.93" y="331.5" font-size="7.9" textLength="14.24" lengthAdjust="spacingAndGlyphs" style="" fill="#1a1a1a" stroke="#1a1a1a" stroke-width="0.34" >100</text>
<line x1="475.4" y1="320.9" x2="475.4" y2="322.9" stroke="#111" stroke-width="1.1"/>
<text x="468.13" y="331.5" font-size="7.9" textLength="14.24" lengthAdjust="spacingAndGlyphs" style="" fill="#1a1a1a" stroke="#1a1a1a" stroke-width="0.34" >150</text>
<line x1="504.6" y1="320.9" x2="504.6" y2="322.9" stroke="#111" stroke-width="1.1"/>
<text x="497.44" y="331.5" font-size="7.9" textLength="14.24" lengthAdjust="spacingAndGlyphs" style="" fill="#1a1a1a" stroke="#1a1a1a" stroke-width="0.34" >200</text>
<text x="354.47" y="197.1" font-size="16.5" textLength="11.3" lengthAdjust="spacingAndGlyphs" style="font-weight:bold;" fill="#000" stroke="#000" stroke-width="0.34" >E</text>
<text x="378.22" y="196.7" font-size="11" textLength="128.31" lengthAdjust="spacingAndGlyphs" style="" fill="#1a1a1a" stroke="#1a1a1a" stroke-width="0.34" >Low-threshold AM fibers</text>
<text x="414.66" y="211.1" font-size="11" textLength="57.69" lengthAdjust="spacingAndGlyphs" style="" fill="#1a1a1a" stroke="#1a1a1a" stroke-width="0.34" >&lt; 4 mN vFT</text>
<text x="388.76" y="343.8" font-size="9.5" textLength="106.48" lengthAdjust="spacingAndGlyphs" style="" fill="#1a1a1a" stroke="#1a1a1a" stroke-width="0.34" >Mechanical Force (mN)</text>
<polyline points="390.72,291.47 393.64,273.01 399.48,252.81 411.16,239.54 446.2,237.99 475.4,233.6 504.6,228" fill="none" stroke="#111" stroke-width="1.2"/>
<line x1="390.72" y1="291.47" x2="390.72" y2="283.39" stroke="#111" stroke-width="1.2"/>
<line x1="388.12" y1="283.39" x2="393.32" y2="283.39" stroke="#111" stroke-width="1.2"/>
<line x1="390.72" y1="291.47" x2="390.72" y2="300.7" stroke="#111" stroke-width="1.2"/>
<line x1="388.12" y1="300.7" x2="393.32" y2="300.7" stroke="#111" stroke-width="1.2"/>
<line x1="393.64" y1="273.01" x2="393.64" y2="265.51" stroke="#111" stroke-width="1.2"/>
<line x1="391.04" y1="265.51" x2="396.24" y2="265.51" stroke="#111" stroke-width="1.2"/>
<line x1="393.64" y1="273.01" x2="393.64" y2="280.51" stroke="#111" stroke-width="1.2"/>
<line x1="391.04" y1="280.51" x2="396.24" y2="280.51" stroke="#111" stroke-width="1.2"/>
<line x1="399.48" y1="252.81" x2="399.48" y2="243.58" stroke="#111" stroke-width="1.2"/>
<line x1="396.88" y1="243.58" x2="402.08" y2="243.58" stroke="#111" stroke-width="1.2"/>
<line x1="399.48" y1="252.81" x2="399.48" y2="262.05" stroke="#111" stroke-width="1.2"/>
<line x1="396.88" y1="262.05" x2="402.08" y2="262.05" stroke="#111" stroke-width="1.2"/>
<line x1="411.16" y1="239.54" x2="411.16" y2="230.89" stroke="#111" stroke-width="1.2"/>
<line x1="408.56" y1="230.89" x2="413.76" y2="230.89" stroke="#111" stroke-width="1.2"/>
<line x1="411.16" y1="239.54" x2="411.16" y2="248.2" stroke="#111" stroke-width="1.2"/>
<line x1="408.56" y1="248.2" x2="413.76" y2="248.2" stroke="#111" stroke-width="1.2"/>
<line x1="446.2" y1="237.99" x2="446.2" y2="225.69" stroke="#111" stroke-width="1.2"/>
<line x1="443.6" y1="225.69" x2="448.8" y2="225.69" stroke="#111" stroke-width="1.2"/>
<line x1="446.2" y1="237.99" x2="446.2" y2="249.93" stroke="#111" stroke-width="1.2"/>
<line x1="443.6" y1="249.93" x2="448.8" y2="249.93" stroke="#111" stroke-width="1.2"/>
<line x1="475.4" y1="233.6" x2="475.4" y2="219.35" stroke="#111" stroke-width="1.2"/>
<line x1="472.8" y1="219.35" x2="478" y2="219.35" stroke="#111" stroke-width="1.2"/>
<line x1="475.4" y1="233.6" x2="475.4" y2="247.62" stroke="#111" stroke-width="1.2"/>
<line x1="472.8" y1="247.62" x2="478" y2="247.62" stroke="#111" stroke-width="1.2"/>
<line x1="504.6" y1="228" x2="504.6" y2="212.42" stroke="#111" stroke-width="1.2"/>
<line x1="502" y1="212.42" x2="507.2" y2="212.42" stroke="#111" stroke-width="1.2"/>
<line x1="504.6" y1="228" x2="504.6" y2="243.58" stroke="#111" stroke-width="1.2"/>
<line x1="502" y1="243.58" x2="507.2" y2="243.58" stroke="#111" stroke-width="1.2"/>
<rect x="387.82" y="288.57" width="5.8" height="5.8" fill="#111"/>
<rect x="390.74" y="270.11" width="5.8" height="5.8" fill="#111"/>
<rect x="396.58" y="249.91" width="5.8" height="5.8" fill="#111"/>
<rect x="408.26" y="236.64" width="5.8" height="5.8" fill="#111"/>
<rect x="443.3" y="235.09" width="5.8" height="5.8" fill="#111"/>
<rect x="472.5" y="230.7" width="5.8" height="5.8" fill="#111"/>
<rect x="501.7" y="225.1" width="5.8" height="5.8" fill="#111"/>
<polyline points="390.72,274.74 393.64,271.28 399.48,246.47 411.16,237.81 446.2,248.37 475.4,246.01 504.6,220.68" fill="none" stroke="#c82636" stroke-width="1.2"/>
<line x1="390.72" y1="274.74" x2="390.72" y2="265.51" stroke="#c82636" stroke-width="1.2"/>
<line x1="388.12" y1="265.51" x2="393.32" y2="265.51" stroke="#c82636" stroke-width="1.2"/>
<line x1="390.72" y1="274.74" x2="390.72" y2="283.97" stroke="#c82636" stroke-width="1.2"/>
<line x1="388.12" y1="283.97" x2="393.32" y2="283.97" stroke="#c82636" stroke-width="1.2"/>
<line x1="393.64" y1="271.28" x2="393.64" y2="260.89" stroke="#c82636" stroke-width="1.2"/>
<line x1="391.04" y1="260.89" x2="396.24" y2="260.89" stroke="#c82636" stroke-width="1.2"/>
<line x1="393.64" y1="271.28" x2="393.64" y2="281.66" stroke="#c82636" stroke-width="1.2"/>
<line x1="391.04" y1="281.66" x2="396.24" y2="281.66" stroke="#c82636" stroke-width="1.2"/>
<line x1="399.48" y1="246.47" x2="399.48" y2="225.12" stroke="#c82636" stroke-width="1.2"/>
<line x1="396.88" y1="225.12" x2="402.08" y2="225.12" stroke="#c82636" stroke-width="1.2"/>
<line x1="399.48" y1="246.47" x2="399.48" y2="266.08" stroke="#c82636" stroke-width="1.2"/>
<line x1="396.88" y1="266.08" x2="402.08" y2="266.08" stroke="#c82636" stroke-width="1.2"/>
<line x1="411.16" y1="237.81" x2="411.16" y2="221.66" stroke="#c82636" stroke-width="1.2"/>
<line x1="408.56" y1="221.66" x2="413.76" y2="221.66" stroke="#c82636" stroke-width="1.2"/>
<line x1="411.16" y1="237.81" x2="411.16" y2="252.24" stroke="#c82636" stroke-width="1.2"/>
<line x1="408.56" y1="252.24" x2="413.76" y2="252.24" stroke="#c82636" stroke-width="1.2"/>
<line x1="446.2" y1="248.37" x2="446.2" y2="232.62" stroke="#c82636" stroke-width="1.2"/>
<line x1="443.6" y1="232.62" x2="448.8" y2="232.62" stroke="#c82636" stroke-width="1.2"/>
<line x1="446.2" y1="248.37" x2="446.2" y2="264.12" stroke="#c82636" stroke-width="1.2"/>
<line x1="443.6" y1="264.12" x2="448.8" y2="264.12" stroke="#c82636" stroke-width="1.2"/>
<line x1="475.4" y1="246.01" x2="475.4" y2="232.62" stroke="#c82636" stroke-width="1.2"/>
<line x1="472.8" y1="232.62" x2="478" y2="232.62" stroke="#c82636" stroke-width="1.2"/>
<line x1="475.4" y1="246.01" x2="475.4" y2="259.51" stroke="#c82636" stroke-width="1.2"/>
<line x1="472.8" y1="259.51" x2="478" y2="259.51" stroke="#c82636" stroke-width="1.2"/>
<line x1="504.6" y1="220.68" x2="504.6" y2="203.77" stroke="#c82636" stroke-width="1.2"/>
<line x1="502" y1="203.77" x2="507.2" y2="203.77" stroke="#c82636" stroke-width="1.2"/>
<line x1="504.6" y1="220.68" x2="504.6" y2="238.97" stroke="#c82636" stroke-width="1.2"/>
<line x1="502" y1="238.97" x2="507.2" y2="238.97" stroke="#c82636" stroke-width="1.2"/>
<circle cx="390.72" cy="274.74" r="2.9" fill="#fff" stroke="#c82636" stroke-width="1.4"/>
<circle cx="393.64" cy="271.28" r="2.9" fill="#fff" stroke="#c82636" stroke-width="1.4"/>
<circle cx="399.48" cy="246.47" r="2.9" fill="#fff" stroke="#c82636" stroke-width="1.4"/>
<circle cx="411.16" cy="237.81" r="2.9" fill="#fff" stroke="#c82636" stroke-width="1.4"/>
<circle cx="446.2" cy="248.37" r="2.9" fill="#fff" stroke="#c82636" stroke-width="1.4"/>
<circle cx="475.4" cy="246.01" r="2.9" fill="#fff" stroke="#c82636" stroke-width="1.4"/>
<circle cx="504.6" cy="220.68" r="2.9" fill="#fff" stroke="#c82636" stroke-width="1.4"/>
<line x1="445.4" y1="293.5" x2="463.4" y2="293.5" stroke="#111" stroke-width="1.2"/>
<rect x="452" y="291.1" width="4.8" height="4.8" fill="#111"/>
<line x1="445.4" y1="303.1" x2="463.4" y2="303.1" stroke="#c82636" stroke-width="1.2"/>
<circle cx="454.4" cy="303.1" r="2.7" fill="#fff" stroke="#c82636" stroke-width="1.3"/>
<text x="465.76" y="296.2" font-size="8.6" textLength="51.7" lengthAdjust="spacingAndGlyphs" style="" fill="#1a1a1a" stroke="#1a1a1a" stroke-width="0.34" >HbAA (n=10)</text>
<text x="465.76" y="305.4" font-size="8.6" textLength="47.1" lengthAdjust="spacingAndGlyphs" style="" fill="#1a1a1a" stroke="#1a1a1a" stroke-width="0.34" >HbSS (n=8)</text>
</g>
</svg>
</body></html>
